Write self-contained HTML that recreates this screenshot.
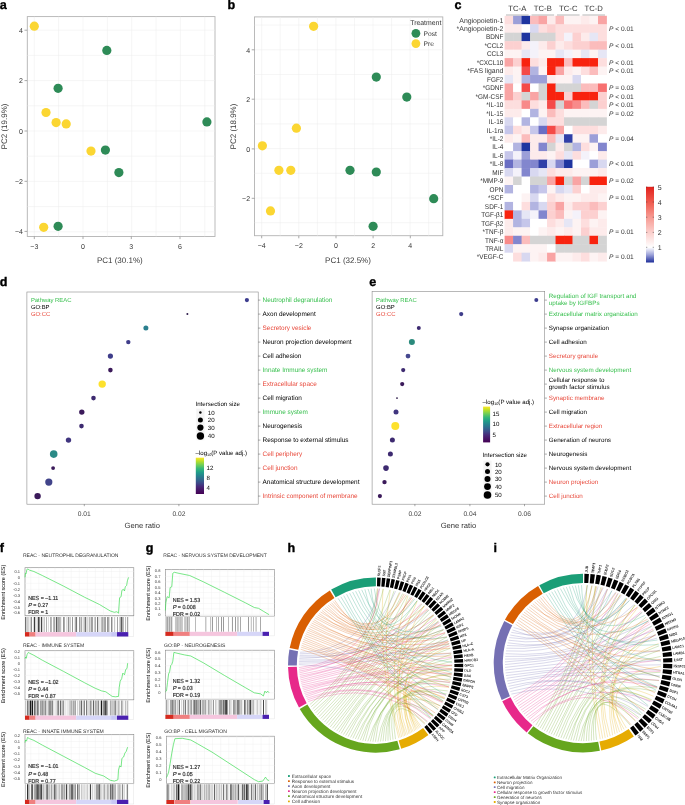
<!DOCTYPE html>
<html lang="en"><head><meta charset="utf-8"><title>Figure</title>
<style>html,body{margin:0;padding:0;background:#fff}body{width:685px;height:805px;overflow:hidden}svg{display:block;font-family:"Liberation Sans", sans-serif;text-rendering:geometricPrecision;will-change:transform}</style></head><body>
<svg width="685" height="805" viewBox="0 0 685 805">
<defs>
<linearGradient id="hmgrad" x1="0" y1="0" x2="0" y2="1"><stop offset="0" stop-color="#e3211c"/><stop offset="0.2" stop-color="#ef5a4e"/><stop offset="0.4" stop-color="#f79a92"/><stop offset="0.6" stop-color="#fbcfcc"/><stop offset="0.8" stop-color="#ffffff"/><stop offset="0.9" stop-color="#9aa0d8"/><stop offset="1" stop-color="#1f2f9a"/></linearGradient>
<linearGradient id="vir" x1="0" y1="0" x2="0" y2="1"><stop offset="0" stop-color="#fde725"/><stop offset="0.1" stop-color="#b5de2b"/><stop offset="0.2" stop-color="#6ece58"/><stop offset="0.3" stop-color="#35b779"/><stop offset="0.4" stop-color="#1f9e89"/><stop offset="0.5" stop-color="#26828e"/><stop offset="0.6" stop-color="#31688e"/><stop offset="0.7" stop-color="#3e4989"/><stop offset="0.8" stop-color="#482878"/><stop offset="0.9" stop-color="#471365"/><stop offset="1" stop-color="#440154"/></linearGradient>
</defs>
<rect width="685" height="805" fill="#fff"/>
<rect x="27.3" y="16.6" width="187.7" height="219.9" fill="#fff" stroke="#b3b3b3" stroke-width="0.9"/>
<path d="M34.3 16.6V236.5M58.6 16.6V236.5M83.0 16.6V236.5M107.4 16.6V236.5M131.7 16.6V236.5M156.1 16.6V236.5M180.4 16.6V236.5M204.8 16.6V236.5M27.3 30.2H215M27.3 55.4H215M27.3 80.6H215M27.3 105.8H215M27.3 131.0H215M27.3 156.2H215M27.3 181.4H215M27.3 206.6H215M27.3 231.8H215" stroke="#ececec" stroke-width="0.5" fill="none"/>
<text x="34.3" y="249.1" font-size="7.0" text-anchor="middle" fill="#333">−3</text>
<text x="83.0" y="249.1" font-size="7.0" text-anchor="middle" fill="#333">0</text>
<text x="131.3" y="249.1" font-size="7.0" text-anchor="middle" fill="#333">3</text>
<text x="180.0" y="249.1" font-size="7.0" text-anchor="middle" fill="#333">6</text>
<text x="22.9" y="33.0" font-size="7.0" text-anchor="end" fill="#333">4</text>
<text x="22.9" y="83.4" font-size="7.0" text-anchor="end" fill="#333">2</text>
<text x="22.9" y="133.8" font-size="7.0" text-anchor="end" fill="#333">0</text>
<text x="22.9" y="184.1" font-size="7.0" text-anchor="end" fill="#333">−2</text>
<text x="22.9" y="234.2" font-size="7.0" text-anchor="end" fill="#333">−4</text>
<path d="M34.3 236.5v2.6M83.0 236.5v2.6M131.3 236.5v2.6M180.0 236.5v2.6M27.3 30.2h-2.8M27.3 80.6h-2.8M27.3 131.0h-2.8M27.3 181.3h-2.8M27.3 231.4h-2.8" stroke="#555" stroke-width="0.5" fill="none"/>
<circle cx="34.3" cy="26.2" r="4.6" fill="#fbd632"/>
<circle cx="46.0" cy="112.5" r="4.6" fill="#fbd632"/>
<circle cx="56.1" cy="122.6" r="4.6" fill="#fbd632"/>
<circle cx="66.2" cy="123.9" r="4.6" fill="#fbd632"/>
<circle cx="91.0" cy="151.1" r="4.6" fill="#fbd632"/>
<circle cx="43.7" cy="227.3" r="4.6" fill="#fbd632"/>
<circle cx="106.8" cy="50.4" r="4.6" fill="#2e8b57"/>
<circle cx="58.1" cy="88.3" r="4.6" fill="#2e8b57"/>
<circle cx="206.9" cy="121.9" r="4.6" fill="#2e8b57"/>
<circle cx="105.4" cy="150.1" r="4.6" fill="#2e8b57"/>
<circle cx="118.9" cy="172.6" r="4.6" fill="#2e8b57"/>
<circle cx="58.1" cy="226.3" r="4.6" fill="#2e8b57"/>
<text x="119.8" y="263.3" font-size="8" text-anchor="middle" fill="#3a3a3a">PC1 (30.1%)</text>
<text x="7.2" y="126.5" font-size="8" text-anchor="middle" fill="#3a3a3a" transform="rotate(-90 7.2 126.5)">PC2 (19.9%)</text>
<rect x="254.5" y="16.9" width="188.3" height="218.8" fill="#fff" stroke="#b3b3b3" stroke-width="0.9"/>
<path d="M261.7 16.9V235.7M280.2 16.9V235.7M298.8 16.9V235.7M317.4 16.9V235.7M335.9 16.9V235.7M354.5 16.9V235.7M373.0 16.9V235.7M391.6 16.9V235.7M410.1 16.9V235.7M428.7 16.9V235.7M254.5 25.1H442.8M254.5 49.8H442.8M254.5 74.5H442.8M254.5 99.2H442.8M254.5 123.9H442.8M254.5 148.6H442.8M254.5 173.3H442.8M254.5 198.0H442.8M254.5 222.7H442.8" stroke="#ececec" stroke-width="0.5" fill="none"/>
<text x="261.7" y="248.3" font-size="7.0" text-anchor="middle" fill="#333">−4</text>
<text x="298.8" y="248.3" font-size="7.0" text-anchor="middle" fill="#333">−2</text>
<text x="336.0" y="248.3" font-size="7.0" text-anchor="middle" fill="#333">0</text>
<text x="373.1" y="248.3" font-size="7.0" text-anchor="middle" fill="#333">2</text>
<text x="410.3" y="248.3" font-size="7.0" text-anchor="middle" fill="#333">4</text>
<text x="250.1" y="52.6" font-size="7.0" text-anchor="end" fill="#333">4</text>
<text x="250.1" y="102.0" font-size="7.0" text-anchor="end" fill="#333">2</text>
<text x="250.1" y="151.7" font-size="7.0" text-anchor="end" fill="#333">0</text>
<text x="250.1" y="201.1" font-size="7.0" text-anchor="end" fill="#333">−2</text>
<path d="M261.7 235.7v2.6M298.8 235.7v2.6M336.0 235.7v2.6M373.1 235.7v2.6M410.3 235.7v2.6M254.5 49.8h-2.8M254.5 99.2h-2.8M254.5 148.9h-2.8M254.5 198.3h-2.8" stroke="#555" stroke-width="0.5" fill="none"/>
<circle cx="313.6" cy="26.3" r="4.6" fill="#fbd632"/>
<circle cx="296.4" cy="128.2" r="4.6" fill="#fbd632"/>
<circle cx="262.4" cy="145.8" r="4.6" fill="#fbd632"/>
<circle cx="278.9" cy="170.3" r="4.6" fill="#fbd632"/>
<circle cx="290.8" cy="170.3" r="4.6" fill="#fbd632"/>
<circle cx="270.5" cy="210.9" r="4.6" fill="#fbd632"/>
<circle cx="376.3" cy="77.1" r="4.6" fill="#2e8b57"/>
<circle cx="406.8" cy="97.1" r="4.6" fill="#2e8b57"/>
<circle cx="350.0" cy="170.3" r="4.6" fill="#2e8b57"/>
<circle cx="376.3" cy="172.0" r="4.6" fill="#2e8b57"/>
<circle cx="433.7" cy="198.7" r="4.6" fill="#2e8b57"/>
<circle cx="373.1" cy="226.3" r="4.6" fill="#2e8b57"/>
<text x="348.0" y="263.3" font-size="8" text-anchor="middle" fill="#3a3a3a">PC1 (32.5%)</text>
<text x="235.8" y="126.5" font-size="8" text-anchor="middle" fill="#3a3a3a" transform="rotate(-90 235.8 126.5)">PC2 (18.9%)</text>
<text x="410.2" y="25.1" font-size="6.9" fill="#333">Treatment</text>
<circle cx="415.9" cy="33.3" r="4.4" fill="#2e8b57"/>
<circle cx="415.9" cy="43.6" r="4.4" fill="#fbd632"/>
<text x="423.6" y="35.8" font-size="6.7" fill="#333">Post</text>
<text x="423.6" y="46.0" font-size="6.7" fill="#333">Pre</text>
<rect x="504.60" y="15.80" width="8.89" height="8.86" fill="#fddede"/>
<rect x="513.09" y="15.80" width="8.89" height="8.86" fill="#9c9fd8"/>
<rect x="521.58" y="15.80" width="8.89" height="8.86" fill="#1f35a0"/>
<rect x="530.07" y="15.80" width="8.89" height="8.86" fill="#fbbcbc"/>
<rect x="538.56" y="15.80" width="8.89" height="8.86" fill="#f9a4a4"/>
<rect x="547.05" y="15.80" width="8.89" height="8.86" fill="#fdebeb"/>
<rect x="555.54" y="15.80" width="8.89" height="8.86" fill="#fbbcbc"/>
<rect x="564.03" y="15.80" width="8.89" height="8.86" fill="#fdf3f3"/>
<rect x="572.52" y="15.80" width="8.89" height="8.86" fill="#fdf3f3"/>
<rect x="581.01" y="15.80" width="8.89" height="8.86" fill="#fdebeb"/>
<rect x="589.50" y="15.80" width="8.89" height="8.86" fill="#fdf3f3"/>
<rect x="597.99" y="15.80" width="8.89" height="8.86" fill="#f9a4a4"/>
<text x="503.4" y="22.5" font-size="6.9" textLength="44.11" lengthAdjust="spacingAndGlyphs" text-anchor="end" fill="#333">Angiopoietin-1</text>
<rect x="504.60" y="24.26" width="8.89" height="8.86" fill="#fdebeb"/>
<rect x="513.09" y="24.26" width="8.89" height="8.86" fill="#fdebeb"/>
<rect x="521.58" y="24.26" width="8.89" height="8.86" fill="#ffffff"/>
<rect x="530.07" y="24.26" width="8.89" height="8.86" fill="#d8d8f0"/>
<rect x="538.56" y="24.26" width="8.89" height="8.86" fill="#fddede"/>
<rect x="547.05" y="24.26" width="8.89" height="8.86" fill="#fcd0d0"/>
<rect x="555.54" y="24.26" width="8.89" height="8.86" fill="#fddede"/>
<rect x="564.03" y="24.26" width="8.89" height="8.86" fill="#fddede"/>
<rect x="572.52" y="24.26" width="8.89" height="8.86" fill="#fddede"/>
<rect x="581.01" y="24.26" width="8.89" height="8.86" fill="#fddede"/>
<rect x="589.50" y="24.26" width="8.89" height="8.86" fill="#fddede"/>
<rect x="597.99" y="24.26" width="8.89" height="8.86" fill="#fddede"/>
<text x="503.4" y="31.0" font-size="6.9" textLength="46.80" lengthAdjust="spacingAndGlyphs" text-anchor="end" fill="#333">*Angiopoietin-2</text>
<text x="609.0" y="31.0" font-size="6.6" fill="#333"><tspan font-style="italic">P</tspan> &lt; 0.01</text>
<rect x="504.60" y="32.72" width="8.89" height="8.86" fill="#d4d4d4"/>
<rect x="513.09" y="32.72" width="8.89" height="8.86" fill="#d4d4d4"/>
<rect x="521.58" y="32.72" width="8.89" height="8.86" fill="#1f35a0"/>
<rect x="530.07" y="32.72" width="8.89" height="8.86" fill="#d4d4d4"/>
<rect x="538.56" y="32.72" width="8.89" height="8.86" fill="#d4d4d4"/>
<rect x="547.05" y="32.72" width="8.89" height="8.86" fill="#d4d4d4"/>
<rect x="555.54" y="32.72" width="8.89" height="8.86" fill="#fddede"/>
<rect x="564.03" y="32.72" width="8.89" height="8.86" fill="#f4f2fa"/>
<rect x="572.52" y="32.72" width="8.89" height="8.86" fill="#fcd0d0"/>
<rect x="581.01" y="32.72" width="8.89" height="8.86" fill="#fdebeb"/>
<rect x="589.50" y="32.72" width="8.89" height="8.86" fill="#e6e6f5"/>
<rect x="597.99" y="32.72" width="8.89" height="8.86" fill="#fddede"/>
<text x="503.4" y="39.4" font-size="6.9" textLength="17.47" lengthAdjust="spacingAndGlyphs" text-anchor="end" fill="#333">BDNF</text>
<rect x="504.60" y="41.18" width="8.89" height="8.86" fill="#fcd0d0"/>
<rect x="513.09" y="41.18" width="8.89" height="8.86" fill="#fcd0d0"/>
<rect x="521.58" y="41.18" width="8.89" height="8.86" fill="#fdebeb"/>
<rect x="530.07" y="41.18" width="8.89" height="8.86" fill="#f4f2fa"/>
<rect x="538.56" y="41.18" width="8.89" height="8.86" fill="#fdebeb"/>
<rect x="547.05" y="41.18" width="8.89" height="8.86" fill="#fcd0d0"/>
<rect x="555.54" y="41.18" width="8.89" height="8.86" fill="#fdebeb"/>
<rect x="564.03" y="41.18" width="8.89" height="8.86" fill="#fddede"/>
<rect x="572.52" y="41.18" width="8.89" height="8.86" fill="#fcd0d0"/>
<rect x="581.01" y="41.18" width="8.89" height="8.86" fill="#fcd0d0"/>
<rect x="589.50" y="41.18" width="8.89" height="8.86" fill="#fbbcbc"/>
<rect x="597.99" y="41.18" width="8.89" height="8.86" fill="#fbbcbc"/>
<text x="503.4" y="47.9" font-size="6.9" textLength="18.90" lengthAdjust="spacingAndGlyphs" text-anchor="end" fill="#333">*CCL2</text>
<text x="609.0" y="47.9" font-size="6.6" fill="#333"><tspan font-style="italic">P</tspan> &lt; 0.01</text>
<rect x="504.60" y="49.64" width="8.89" height="8.86" fill="#fdf3f3"/>
<rect x="513.09" y="49.64" width="8.89" height="8.86" fill="#fdf3f3"/>
<rect x="521.58" y="49.64" width="8.89" height="8.86" fill="#e6e6f5"/>
<rect x="530.07" y="49.64" width="8.89" height="8.86" fill="#f4f2fa"/>
<rect x="538.56" y="49.64" width="8.89" height="8.86" fill="#fdf3f3"/>
<rect x="547.05" y="49.64" width="8.89" height="8.86" fill="#fdf3f3"/>
<rect x="555.54" y="49.64" width="8.89" height="8.86" fill="#e6e6f5"/>
<rect x="564.03" y="49.64" width="8.89" height="8.86" fill="#f4f2fa"/>
<rect x="572.52" y="49.64" width="8.89" height="8.86" fill="#fdf3f3"/>
<rect x="581.01" y="49.64" width="8.89" height="8.86" fill="#e6e6f5"/>
<rect x="589.50" y="49.64" width="8.89" height="8.86" fill="#fdf3f3"/>
<rect x="597.99" y="49.64" width="8.89" height="8.86" fill="#e6e6f5"/>
<text x="503.4" y="56.3" font-size="6.9" textLength="16.41" lengthAdjust="spacingAndGlyphs" text-anchor="end" fill="#333">CCL3</text>
<rect x="504.60" y="58.10" width="8.89" height="8.86" fill="#f9a4a4"/>
<rect x="513.09" y="58.10" width="8.89" height="8.86" fill="#fcd0d0"/>
<rect x="521.58" y="58.10" width="8.89" height="8.86" fill="#f8230f"/>
<rect x="530.07" y="58.10" width="8.89" height="8.86" fill="#fddede"/>
<rect x="538.56" y="58.10" width="8.89" height="8.86" fill="#fdebeb"/>
<rect x="547.05" y="58.10" width="8.89" height="8.86" fill="#f8230f"/>
<rect x="555.54" y="58.10" width="8.89" height="8.86" fill="#f8230f"/>
<rect x="564.03" y="58.10" width="8.89" height="8.86" fill="#fbbcbc"/>
<rect x="572.52" y="58.10" width="8.89" height="8.86" fill="#f8230f"/>
<rect x="581.01" y="58.10" width="8.89" height="8.86" fill="#f8230f"/>
<rect x="589.50" y="58.10" width="8.89" height="8.86" fill="#f8230f"/>
<rect x="597.99" y="58.10" width="8.89" height="8.86" fill="#fddede"/>
<text x="503.4" y="64.8" font-size="6.9" textLength="26.75" lengthAdjust="spacingAndGlyphs" text-anchor="end" fill="#333">*CXCL10</text>
<text x="609.0" y="64.8" font-size="6.6" fill="#333"><tspan font-style="italic">P</tspan> &lt; 0.01</text>
<rect x="504.60" y="66.56" width="8.89" height="8.86" fill="#fdebeb"/>
<rect x="513.09" y="66.56" width="8.89" height="8.86" fill="#fdf3f3"/>
<rect x="521.58" y="66.56" width="8.89" height="8.86" fill="#f44a48"/>
<rect x="530.07" y="66.56" width="8.89" height="8.86" fill="#b2b4e1"/>
<rect x="538.56" y="66.56" width="8.89" height="8.86" fill="#fdf3f3"/>
<rect x="547.05" y="66.56" width="8.89" height="8.86" fill="#f8230f"/>
<rect x="555.54" y="66.56" width="8.89" height="8.86" fill="#f9a4a4"/>
<rect x="564.03" y="66.56" width="8.89" height="8.86" fill="#fdebeb"/>
<rect x="572.52" y="66.56" width="8.89" height="8.86" fill="#fdf3f3"/>
<rect x="581.01" y="66.56" width="8.89" height="8.86" fill="#fddede"/>
<rect x="589.50" y="66.56" width="8.89" height="8.86" fill="#fbbcbc"/>
<rect x="597.99" y="66.56" width="8.89" height="8.86" fill="#fdf3f3"/>
<text x="503.4" y="73.3" font-size="6.9" textLength="36.06" lengthAdjust="spacingAndGlyphs" text-anchor="end" fill="#333">*FAS ligand</text>
<text x="609.0" y="73.3" font-size="6.6" fill="#333"><tspan font-style="italic">P</tspan> &lt; 0.01</text>
<rect x="504.60" y="75.02" width="8.89" height="8.86" fill="#e6e6f5"/>
<rect x="513.09" y="75.02" width="8.89" height="8.86" fill="#fdf3f3"/>
<rect x="521.58" y="75.02" width="8.89" height="8.86" fill="#b2b4e1"/>
<rect x="530.07" y="75.02" width="8.89" height="8.86" fill="#9c9fd8"/>
<rect x="538.56" y="75.02" width="8.89" height="8.86" fill="#9c9fd8"/>
<rect x="547.05" y="75.02" width="8.89" height="8.86" fill="#fdebeb"/>
<rect x="555.54" y="75.02" width="8.89" height="8.86" fill="#fdf3f3"/>
<rect x="564.03" y="75.02" width="8.89" height="8.86" fill="#fdf3f3"/>
<rect x="572.52" y="75.02" width="8.89" height="8.86" fill="#d8d8f0"/>
<rect x="581.01" y="75.02" width="8.89" height="8.86" fill="#ffffff"/>
<rect x="589.50" y="75.02" width="8.89" height="8.86" fill="#ffffff"/>
<rect x="597.99" y="75.02" width="8.89" height="8.86" fill="#ffffff"/>
<text x="503.4" y="81.7" font-size="6.9" textLength="16.40" lengthAdjust="spacingAndGlyphs" text-anchor="end" fill="#333">FGF2</text>
<rect x="504.60" y="83.48" width="8.89" height="8.86" fill="#f9a4a4"/>
<rect x="513.09" y="83.48" width="8.89" height="8.86" fill="#ffffff"/>
<rect x="521.58" y="83.48" width="8.89" height="8.86" fill="#f44a48"/>
<rect x="530.07" y="83.48" width="8.89" height="8.86" fill="#ffffff"/>
<rect x="538.56" y="83.48" width="8.89" height="8.86" fill="#d4d4d4"/>
<rect x="547.05" y="83.48" width="8.89" height="8.86" fill="#f8230f"/>
<rect x="555.54" y="83.48" width="8.89" height="8.86" fill="#d4d4d4"/>
<rect x="564.03" y="83.48" width="8.89" height="8.86" fill="#d4d4d4"/>
<rect x="572.52" y="83.48" width="8.89" height="8.86" fill="#d4d4d4"/>
<rect x="581.01" y="83.48" width="8.89" height="8.86" fill="#fbbcbc"/>
<rect x="589.50" y="83.48" width="8.89" height="8.86" fill="#fbbcbc"/>
<rect x="597.99" y="83.48" width="8.89" height="8.86" fill="#f77070"/>
<text x="503.4" y="90.2" font-size="6.9" textLength="20.68" lengthAdjust="spacingAndGlyphs" text-anchor="end" fill="#333">*GDNF</text>
<text x="609.0" y="90.2" font-size="6.6" fill="#333"><tspan font-style="italic">P</tspan> = 0.03</text>
<rect x="504.60" y="91.94" width="8.89" height="8.86" fill="#f9a4a4"/>
<rect x="513.09" y="91.94" width="8.89" height="8.86" fill="#fcd0d0"/>
<rect x="521.58" y="91.94" width="8.89" height="8.86" fill="#d4d4d4"/>
<rect x="530.07" y="91.94" width="8.89" height="8.86" fill="#f9a4a4"/>
<rect x="538.56" y="91.94" width="8.89" height="8.86" fill="#d4d4d4"/>
<rect x="547.05" y="91.94" width="8.89" height="8.86" fill="#f8230f"/>
<rect x="555.54" y="91.94" width="8.89" height="8.86" fill="#f8230f"/>
<rect x="564.03" y="91.94" width="8.89" height="8.86" fill="#fcd0d0"/>
<rect x="572.52" y="91.94" width="8.89" height="8.86" fill="#f8230f"/>
<rect x="581.01" y="91.94" width="8.89" height="8.86" fill="#f8230f"/>
<rect x="589.50" y="91.94" width="8.89" height="8.86" fill="#f8230f"/>
<rect x="597.99" y="91.94" width="8.89" height="8.86" fill="#fcd0d0"/>
<text x="503.4" y="98.6" font-size="6.9" textLength="27.80" lengthAdjust="spacingAndGlyphs" text-anchor="end" fill="#333">*GM-CSF</text>
<text x="609.0" y="98.6" font-size="6.6" fill="#333"><tspan font-style="italic">P</tspan> &lt; 0.01</text>
<rect x="504.60" y="100.40" width="8.89" height="8.86" fill="#fddede"/>
<rect x="513.09" y="100.40" width="8.89" height="8.86" fill="#fddede"/>
<rect x="521.58" y="100.40" width="8.89" height="8.86" fill="#f88a8a"/>
<rect x="530.07" y="100.40" width="8.89" height="8.86" fill="#fddede"/>
<rect x="538.56" y="100.40" width="8.89" height="8.86" fill="#fdebeb"/>
<rect x="547.05" y="100.40" width="8.89" height="8.86" fill="#f44a48"/>
<rect x="555.54" y="100.40" width="8.89" height="8.86" fill="#d4d4d4"/>
<rect x="564.03" y="100.40" width="8.89" height="8.86" fill="#f77070"/>
<rect x="572.52" y="100.40" width="8.89" height="8.86" fill="#f88a8a"/>
<rect x="581.01" y="100.40" width="8.89" height="8.86" fill="#fbbcbc"/>
<rect x="589.50" y="100.40" width="8.89" height="8.86" fill="#d4d4d4"/>
<rect x="597.99" y="100.40" width="8.89" height="8.86" fill="#fcd0d0"/>
<text x="503.4" y="107.1" font-size="6.9" textLength="17.12" lengthAdjust="spacingAndGlyphs" text-anchor="end" fill="#333">*IL-10</text>
<text x="609.0" y="107.1" font-size="6.6" fill="#333"><tspan font-style="italic">P</tspan> &lt; 0.01</text>
<rect x="504.60" y="108.86" width="8.89" height="8.86" fill="#fdebeb"/>
<rect x="513.09" y="108.86" width="8.89" height="8.86" fill="#fdebeb"/>
<rect x="521.58" y="108.86" width="8.89" height="8.86" fill="#ffffff"/>
<rect x="530.07" y="108.86" width="8.89" height="8.86" fill="#b2b4e1"/>
<rect x="538.56" y="108.86" width="8.89" height="8.86" fill="#fdf3f3"/>
<rect x="547.05" y="108.86" width="8.89" height="8.86" fill="#fbbcbc"/>
<rect x="555.54" y="108.86" width="8.89" height="8.86" fill="#fddede"/>
<rect x="564.03" y="108.86" width="8.89" height="8.86" fill="#fdf3f3"/>
<rect x="572.52" y="108.86" width="8.89" height="8.86" fill="#fdf3f3"/>
<rect x="581.01" y="108.86" width="8.89" height="8.86" fill="#fdf3f3"/>
<rect x="589.50" y="108.86" width="8.89" height="8.86" fill="#fdf3f3"/>
<rect x="597.99" y="108.86" width="8.89" height="8.86" fill="#fdf3f3"/>
<text x="503.4" y="115.6" font-size="6.9" textLength="17.12" lengthAdjust="spacingAndGlyphs" text-anchor="end" fill="#333">*IL-15</text>
<text x="609.0" y="115.6" font-size="6.6" fill="#333"><tspan font-style="italic">P</tspan> = 0.02</text>
<rect x="504.60" y="117.32" width="8.89" height="8.86" fill="#d8d8f0"/>
<rect x="513.09" y="117.32" width="8.89" height="8.86" fill="#ffffff"/>
<rect x="521.58" y="117.32" width="8.89" height="8.86" fill="#b2b4e1"/>
<rect x="530.07" y="117.32" width="8.89" height="8.86" fill="#ffffff"/>
<rect x="538.56" y="117.32" width="8.89" height="8.86" fill="#d8d8f0"/>
<rect x="547.05" y="117.32" width="8.89" height="8.86" fill="#fddede"/>
<rect x="555.54" y="117.32" width="8.89" height="8.86" fill="#fddede"/>
<rect x="564.03" y="117.32" width="8.89" height="8.86" fill="#d4d4d4"/>
<rect x="572.52" y="117.32" width="8.89" height="8.86" fill="#d4d4d4"/>
<rect x="581.01" y="117.32" width="8.89" height="8.86" fill="#d4d4d4"/>
<rect x="589.50" y="117.32" width="8.89" height="8.86" fill="#d4d4d4"/>
<rect x="597.99" y="117.32" width="8.89" height="8.86" fill="#d4d4d4"/>
<text x="503.4" y="124.0" font-size="6.9" textLength="14.62" lengthAdjust="spacingAndGlyphs" text-anchor="end" fill="#333">IL-16</text>
<rect x="504.60" y="125.78" width="8.89" height="8.86" fill="#c6c6ea"/>
<rect x="513.09" y="125.78" width="8.89" height="8.86" fill="#fddede"/>
<rect x="521.58" y="125.78" width="8.89" height="8.86" fill="#fdebeb"/>
<rect x="530.07" y="125.78" width="8.89" height="8.86" fill="#c6c6ea"/>
<rect x="538.56" y="125.78" width="8.89" height="8.86" fill="#6a6ec4"/>
<rect x="547.05" y="125.78" width="8.89" height="8.86" fill="#f44a48"/>
<rect x="555.54" y="125.78" width="8.89" height="8.86" fill="#f9a4a4"/>
<rect x="564.03" y="125.78" width="8.89" height="8.86" fill="#ffffff"/>
<rect x="572.52" y="125.78" width="8.89" height="8.86" fill="#fddede"/>
<rect x="581.01" y="125.78" width="8.89" height="8.86" fill="#fddede"/>
<rect x="589.50" y="125.78" width="8.89" height="8.86" fill="#fddede"/>
<rect x="597.99" y="125.78" width="8.89" height="8.86" fill="#fdebeb"/>
<text x="503.4" y="132.5" font-size="6.9" textLength="16.76" lengthAdjust="spacingAndGlyphs" text-anchor="end" fill="#333">IL-1ra</text>
<rect x="504.60" y="134.24" width="8.89" height="8.86" fill="#fdebeb"/>
<rect x="513.09" y="134.24" width="8.89" height="8.86" fill="#fdf3f3"/>
<rect x="521.58" y="134.24" width="8.89" height="8.86" fill="#fbbcbc"/>
<rect x="530.07" y="134.24" width="8.89" height="8.86" fill="#fdebeb"/>
<rect x="538.56" y="134.24" width="8.89" height="8.86" fill="#fdebeb"/>
<rect x="547.05" y="134.24" width="8.89" height="8.86" fill="#fbbcbc"/>
<rect x="555.54" y="134.24" width="8.89" height="8.86" fill="#e6e6f5"/>
<rect x="564.03" y="134.24" width="8.89" height="8.86" fill="#3040a8"/>
<rect x="572.52" y="134.24" width="8.89" height="8.86" fill="#fdf3f3"/>
<rect x="581.01" y="134.24" width="8.89" height="8.86" fill="#fdf3f3"/>
<rect x="589.50" y="134.24" width="8.89" height="8.86" fill="#9c9fd8"/>
<rect x="597.99" y="134.24" width="8.89" height="8.86" fill="#ffffff"/>
<text x="503.4" y="140.9" font-size="6.9" textLength="13.55" lengthAdjust="spacingAndGlyphs" text-anchor="end" fill="#333">*IL-2</text>
<text x="609.0" y="140.9" font-size="6.6" fill="#333"><tspan font-style="italic">P</tspan> = 0.04</text>
<rect x="504.60" y="142.70" width="8.89" height="8.86" fill="#ffffff"/>
<rect x="513.09" y="142.70" width="8.89" height="8.86" fill="#b2b4e1"/>
<rect x="521.58" y="142.70" width="8.89" height="8.86" fill="#1f35a0"/>
<rect x="530.07" y="142.70" width="8.89" height="8.86" fill="#fdebeb"/>
<rect x="538.56" y="142.70" width="8.89" height="8.86" fill="#8286ce"/>
<rect x="547.05" y="142.70" width="8.89" height="8.86" fill="#d4d4d4"/>
<rect x="555.54" y="142.70" width="8.89" height="8.86" fill="#fdebeb"/>
<rect x="564.03" y="142.70" width="8.89" height="8.86" fill="#d4d4d4"/>
<rect x="572.52" y="142.70" width="8.89" height="8.86" fill="#b2b4e1"/>
<rect x="581.01" y="142.70" width="8.89" height="8.86" fill="#fddede"/>
<rect x="589.50" y="142.70" width="8.89" height="8.86" fill="#fdf3f3"/>
<rect x="597.99" y="142.70" width="8.89" height="8.86" fill="#8286ce"/>
<text x="503.4" y="149.4" font-size="6.9" textLength="11.06" lengthAdjust="spacingAndGlyphs" text-anchor="end" fill="#333">IL-4</text>
<rect x="504.60" y="151.16" width="8.89" height="8.86" fill="#c6c6ea"/>
<rect x="513.09" y="151.16" width="8.89" height="8.86" fill="#f4f2fa"/>
<rect x="521.58" y="151.16" width="8.89" height="8.86" fill="#9c9fd8"/>
<rect x="530.07" y="151.16" width="8.89" height="8.86" fill="#fdebeb"/>
<rect x="538.56" y="151.16" width="8.89" height="8.86" fill="#fdebeb"/>
<rect x="547.05" y="151.16" width="8.89" height="8.86" fill="#fdf3f3"/>
<rect x="555.54" y="151.16" width="8.89" height="8.86" fill="#fddede"/>
<rect x="564.03" y="151.16" width="8.89" height="8.86" fill="#e6e6f5"/>
<rect x="572.52" y="151.16" width="8.89" height="8.86" fill="#fddede"/>
<rect x="581.01" y="151.16" width="8.89" height="8.86" fill="#f4f2fa"/>
<rect x="589.50" y="151.16" width="8.89" height="8.86" fill="#ffffff"/>
<rect x="597.99" y="151.16" width="8.89" height="8.86" fill="#fdebeb"/>
<text x="503.4" y="157.9" font-size="6.9" textLength="11.06" lengthAdjust="spacingAndGlyphs" text-anchor="end" fill="#333">IL-6</text>
<rect x="504.60" y="159.62" width="8.89" height="8.86" fill="#6a6ec4"/>
<rect x="513.09" y="159.62" width="8.89" height="8.86" fill="#b2b4e1"/>
<rect x="521.58" y="159.62" width="8.89" height="8.86" fill="#8286ce"/>
<rect x="530.07" y="159.62" width="8.89" height="8.86" fill="#8286ce"/>
<rect x="538.56" y="159.62" width="8.89" height="8.86" fill="#3040a8"/>
<rect x="547.05" y="159.62" width="8.89" height="8.86" fill="#d8d8f0"/>
<rect x="555.54" y="159.62" width="8.89" height="8.86" fill="#8286ce"/>
<rect x="564.03" y="159.62" width="8.89" height="8.86" fill="#1f35a0"/>
<rect x="572.52" y="159.62" width="8.89" height="8.86" fill="#ffffff"/>
<rect x="581.01" y="159.62" width="8.89" height="8.86" fill="#ffffff"/>
<rect x="589.50" y="159.62" width="8.89" height="8.86" fill="#9c9fd8"/>
<rect x="597.99" y="159.62" width="8.89" height="8.86" fill="#d8d8f0"/>
<text x="503.4" y="166.3" font-size="6.9" textLength="13.55" lengthAdjust="spacingAndGlyphs" text-anchor="end" fill="#333">*IL-8</text>
<text x="609.0" y="166.3" font-size="6.6" fill="#333"><tspan font-style="italic">P</tspan> &lt; 0.01</text>
<rect x="504.60" y="168.08" width="8.89" height="8.86" fill="#d8d8f0"/>
<rect x="513.09" y="168.08" width="8.89" height="8.86" fill="#f4f2fa"/>
<rect x="521.58" y="168.08" width="8.89" height="8.86" fill="#8286ce"/>
<rect x="530.07" y="168.08" width="8.89" height="8.86" fill="#d8d8f0"/>
<rect x="538.56" y="168.08" width="8.89" height="8.86" fill="#e6e6f5"/>
<rect x="547.05" y="168.08" width="8.89" height="8.86" fill="#fddede"/>
<rect x="555.54" y="168.08" width="8.89" height="8.86" fill="#fdebeb"/>
<rect x="564.03" y="168.08" width="8.89" height="8.86" fill="#fdebeb"/>
<rect x="572.52" y="168.08" width="8.89" height="8.86" fill="#fdf3f3"/>
<rect x="581.01" y="168.08" width="8.89" height="8.86" fill="#fdf3f3"/>
<rect x="589.50" y="168.08" width="8.89" height="8.86" fill="#fdf3f3"/>
<rect x="597.99" y="168.08" width="8.89" height="8.86" fill="#fdebeb"/>
<text x="503.4" y="174.8" font-size="6.9" textLength="11.05" lengthAdjust="spacingAndGlyphs" text-anchor="end" fill="#333">MIF</text>
<rect x="504.60" y="176.54" width="8.89" height="8.86" fill="#fdf3f3"/>
<rect x="513.09" y="176.54" width="8.89" height="8.86" fill="#d4d4d4"/>
<rect x="521.58" y="176.54" width="8.89" height="8.86" fill="#ffffff"/>
<rect x="530.07" y="176.54" width="8.89" height="8.86" fill="#d4d4d4"/>
<rect x="538.56" y="176.54" width="8.89" height="8.86" fill="#d4d4d4"/>
<rect x="547.05" y="176.54" width="8.89" height="8.86" fill="#f9a4a4"/>
<rect x="555.54" y="176.54" width="8.89" height="8.86" fill="#f8230f"/>
<rect x="564.03" y="176.54" width="8.89" height="8.86" fill="#d4d4d4"/>
<rect x="572.52" y="176.54" width="8.89" height="8.86" fill="#f9a4a4"/>
<rect x="581.01" y="176.54" width="8.89" height="8.86" fill="#d4d4d4"/>
<rect x="589.50" y="176.54" width="8.89" height="8.86" fill="#f8230f"/>
<rect x="597.99" y="176.54" width="8.89" height="8.86" fill="#f8230f"/>
<text x="503.4" y="183.2" font-size="6.9" textLength="23.17" lengthAdjust="spacingAndGlyphs" text-anchor="end" fill="#333">*MMP-9</text>
<text x="609.0" y="183.2" font-size="6.6" fill="#333"><tspan font-style="italic">P</tspan> = 0.02</text>
<rect x="504.60" y="185.00" width="8.89" height="8.86" fill="#b2b4e1"/>
<rect x="513.09" y="185.00" width="8.89" height="8.86" fill="#ffffff"/>
<rect x="521.58" y="185.00" width="8.89" height="8.86" fill="#ffffff"/>
<rect x="530.07" y="185.00" width="8.89" height="8.86" fill="#b2b4e1"/>
<rect x="538.56" y="185.00" width="8.89" height="8.86" fill="#c6c6ea"/>
<rect x="547.05" y="185.00" width="8.89" height="8.86" fill="#fdf3f3"/>
<rect x="555.54" y="185.00" width="8.89" height="8.86" fill="#d8d8f0"/>
<rect x="564.03" y="185.00" width="8.89" height="8.86" fill="#e6e6f5"/>
<rect x="572.52" y="185.00" width="8.89" height="8.86" fill="#fcd0d0"/>
<rect x="581.01" y="185.00" width="8.89" height="8.86" fill="#ffffff"/>
<rect x="589.50" y="185.00" width="8.89" height="8.86" fill="#fdebeb"/>
<rect x="597.99" y="185.00" width="8.89" height="8.86" fill="#fdebeb"/>
<text x="503.4" y="191.7" font-size="6.9" textLength="13.91" lengthAdjust="spacingAndGlyphs" text-anchor="end" fill="#333">OPN</text>
<rect x="504.60" y="193.46" width="8.89" height="8.86" fill="#ffffff"/>
<rect x="513.09" y="193.46" width="8.89" height="8.86" fill="#ffffff"/>
<rect x="521.58" y="193.46" width="8.89" height="8.86" fill="#fdf3f3"/>
<rect x="530.07" y="193.46" width="8.89" height="8.86" fill="#d8d8f0"/>
<rect x="538.56" y="193.46" width="8.89" height="8.86" fill="#ffffff"/>
<rect x="547.05" y="193.46" width="8.89" height="8.86" fill="#fddede"/>
<rect x="555.54" y="193.46" width="8.89" height="8.86" fill="#fdebeb"/>
<rect x="564.03" y="193.46" width="8.89" height="8.86" fill="#fdf3f3"/>
<rect x="572.52" y="193.46" width="8.89" height="8.86" fill="#fdf3f3"/>
<rect x="581.01" y="193.46" width="8.89" height="8.86" fill="#fdebeb"/>
<rect x="589.50" y="193.46" width="8.89" height="8.86" fill="#fdebeb"/>
<rect x="597.99" y="193.46" width="8.89" height="8.86" fill="#fdf3f3"/>
<text x="503.4" y="200.2" font-size="6.9" textLength="15.33" lengthAdjust="spacingAndGlyphs" text-anchor="end" fill="#333">*SCF</text>
<text x="609.0" y="200.2" font-size="6.6" fill="#333"><tspan font-style="italic">P</tspan> = 0.01</text>
<rect x="504.60" y="201.92" width="8.89" height="8.86" fill="#b2b4e1"/>
<rect x="513.09" y="201.92" width="8.89" height="8.86" fill="#ffffff"/>
<rect x="521.58" y="201.92" width="8.89" height="8.86" fill="#fddede"/>
<rect x="530.07" y="201.92" width="8.89" height="8.86" fill="#b2b4e1"/>
<rect x="538.56" y="201.92" width="8.89" height="8.86" fill="#d8d8f0"/>
<rect x="547.05" y="201.92" width="8.89" height="8.86" fill="#fcd0d0"/>
<rect x="555.54" y="201.92" width="8.89" height="8.86" fill="#f9a4a4"/>
<rect x="564.03" y="201.92" width="8.89" height="8.86" fill="#fdebeb"/>
<rect x="572.52" y="201.92" width="8.89" height="8.86" fill="#fcd0d0"/>
<rect x="581.01" y="201.92" width="8.89" height="8.86" fill="#fcd0d0"/>
<rect x="589.50" y="201.92" width="8.89" height="8.86" fill="#fbbcbc"/>
<rect x="597.99" y="201.92" width="8.89" height="8.86" fill="#fcd0d0"/>
<text x="503.4" y="208.6" font-size="6.9" textLength="18.54" lengthAdjust="spacingAndGlyphs" text-anchor="end" fill="#333">SDF-1</text>
<rect x="504.60" y="210.38" width="8.89" height="8.86" fill="#f8230f"/>
<rect x="513.09" y="210.38" width="8.89" height="8.86" fill="#b2b4e1"/>
<rect x="521.58" y="210.38" width="8.89" height="8.86" fill="#e6e6f5"/>
<rect x="530.07" y="210.38" width="8.89" height="8.86" fill="#f4f2fa"/>
<rect x="538.56" y="210.38" width="8.89" height="8.86" fill="#8286ce"/>
<rect x="547.05" y="210.38" width="8.89" height="8.86" fill="#fcd0d0"/>
<rect x="555.54" y="210.38" width="8.89" height="8.86" fill="#fbbcbc"/>
<rect x="564.03" y="210.38" width="8.89" height="8.86" fill="#fdf3f3"/>
<rect x="572.52" y="210.38" width="8.89" height="8.86" fill="#f4f2fa"/>
<rect x="581.01" y="210.38" width="8.89" height="8.86" fill="#fcd0d0"/>
<rect x="589.50" y="210.38" width="8.89" height="8.86" fill="#fcd0d0"/>
<rect x="597.99" y="210.38" width="8.89" height="8.86" fill="#fdf3f3"/>
<text x="503.4" y="217.1" font-size="6.9" textLength="22.23" lengthAdjust="spacingAndGlyphs" text-anchor="end" fill="#333">TGF-β1</text>
<rect x="504.60" y="218.84" width="8.89" height="8.86" fill="#fdebeb"/>
<rect x="513.09" y="218.84" width="8.89" height="8.86" fill="#b2b4e1"/>
<rect x="521.58" y="218.84" width="8.89" height="8.86" fill="#c6c6ea"/>
<rect x="530.07" y="218.84" width="8.89" height="8.86" fill="#ffffff"/>
<rect x="538.56" y="218.84" width="8.89" height="8.86" fill="#ffffff"/>
<rect x="547.05" y="218.84" width="8.89" height="8.86" fill="#fddede"/>
<rect x="555.54" y="218.84" width="8.89" height="8.86" fill="#fdebeb"/>
<rect x="564.03" y="218.84" width="8.89" height="8.86" fill="#e6e6f5"/>
<rect x="572.52" y="218.84" width="8.89" height="8.86" fill="#fdf3f3"/>
<rect x="581.01" y="218.84" width="8.89" height="8.86" fill="#fddede"/>
<rect x="589.50" y="218.84" width="8.89" height="8.86" fill="#fdf3f3"/>
<rect x="597.99" y="218.84" width="8.89" height="8.86" fill="#fdebeb"/>
<text x="503.4" y="225.5" font-size="6.9" textLength="22.23" lengthAdjust="spacingAndGlyphs" text-anchor="end" fill="#333">TGF-β2</text>
<rect x="504.60" y="227.30" width="8.89" height="8.86" fill="#fdebeb"/>
<rect x="513.09" y="227.30" width="8.89" height="8.86" fill="#fdf3f3"/>
<rect x="521.58" y="227.30" width="8.89" height="8.86" fill="#fdf3f3"/>
<rect x="530.07" y="227.30" width="8.89" height="8.86" fill="#ffffff"/>
<rect x="538.56" y="227.30" width="8.89" height="8.86" fill="#fdf3f3"/>
<rect x="547.05" y="227.30" width="8.89" height="8.86" fill="#fdebeb"/>
<rect x="555.54" y="227.30" width="8.89" height="8.86" fill="#fdf3f3"/>
<rect x="564.03" y="227.30" width="8.89" height="8.86" fill="#fdebeb"/>
<rect x="572.52" y="227.30" width="8.89" height="8.86" fill="#fdf3f3"/>
<rect x="581.01" y="227.30" width="8.89" height="8.86" fill="#fcd0d0"/>
<rect x="589.50" y="227.30" width="8.89" height="8.86" fill="#fdebeb"/>
<rect x="597.99" y="227.30" width="8.89" height="8.86" fill="#fdebeb"/>
<text x="503.4" y="234.0" font-size="6.9" textLength="20.80" lengthAdjust="spacingAndGlyphs" text-anchor="end" fill="#333">*TNF-β</text>
<text x="609.0" y="234.0" font-size="6.6" fill="#333"><tspan font-style="italic">P</tspan> = 0.01</text>
<rect x="504.60" y="235.76" width="8.89" height="8.86" fill="#f88a8a"/>
<rect x="513.09" y="235.76" width="8.89" height="8.86" fill="#8286ce"/>
<rect x="521.58" y="235.76" width="8.89" height="8.86" fill="#fbbcbc"/>
<rect x="530.07" y="235.76" width="8.89" height="8.86" fill="#d4d4d4"/>
<rect x="538.56" y="235.76" width="8.89" height="8.86" fill="#d4d4d4"/>
<rect x="547.05" y="235.76" width="8.89" height="8.86" fill="#d4d4d4"/>
<rect x="555.54" y="235.76" width="8.89" height="8.86" fill="#f8230f"/>
<rect x="564.03" y="235.76" width="8.89" height="8.86" fill="#f8230f"/>
<rect x="572.52" y="235.76" width="8.89" height="8.86" fill="#d4d4d4"/>
<rect x="581.01" y="235.76" width="8.89" height="8.86" fill="#d4d4d4"/>
<rect x="589.50" y="235.76" width="8.89" height="8.86" fill="#f8230f"/>
<rect x="597.99" y="235.76" width="8.89" height="8.86" fill="#d4d4d4"/>
<text x="503.4" y="242.5" font-size="6.9" textLength="18.32" lengthAdjust="spacingAndGlyphs" text-anchor="end" fill="#333">TNF-α</text>
<rect x="504.60" y="244.22" width="8.89" height="8.86" fill="#d8d8f0"/>
<rect x="513.09" y="244.22" width="8.89" height="8.86" fill="#fdf3f3"/>
<rect x="521.58" y="244.22" width="8.89" height="8.86" fill="#fdf3f3"/>
<rect x="530.07" y="244.22" width="8.89" height="8.86" fill="#fdf3f3"/>
<rect x="538.56" y="244.22" width="8.89" height="8.86" fill="#fdf3f3"/>
<rect x="547.05" y="244.22" width="8.89" height="8.86" fill="#ffffff"/>
<rect x="555.54" y="244.22" width="8.89" height="8.86" fill="#d4d4d4"/>
<rect x="564.03" y="244.22" width="8.89" height="8.86" fill="#d4d4d4"/>
<rect x="572.52" y="244.22" width="8.89" height="8.86" fill="#d4d4d4"/>
<rect x="581.01" y="244.22" width="8.89" height="8.86" fill="#d4d4d4"/>
<rect x="589.50" y="244.22" width="8.89" height="8.86" fill="#d4d4d4"/>
<rect x="597.99" y="244.22" width="8.89" height="8.86" fill="#d4d4d4"/>
<text x="503.4" y="250.9" font-size="6.9" textLength="18.19" lengthAdjust="spacingAndGlyphs" text-anchor="end" fill="#333">TRAIL</text>
<rect x="504.60" y="252.68" width="8.89" height="8.86" fill="#ffffff"/>
<rect x="513.09" y="252.68" width="8.89" height="8.86" fill="#fddede"/>
<rect x="521.58" y="252.68" width="8.89" height="8.86" fill="#d8d8f0"/>
<rect x="530.07" y="252.68" width="8.89" height="8.86" fill="#fdf3f3"/>
<rect x="538.56" y="252.68" width="8.89" height="8.86" fill="#fdebeb"/>
<rect x="547.05" y="252.68" width="8.89" height="8.86" fill="#f9a4a4"/>
<rect x="555.54" y="252.68" width="8.89" height="8.86" fill="#fdf3f3"/>
<rect x="564.03" y="252.68" width="8.89" height="8.86" fill="#fdf3f3"/>
<rect x="572.52" y="252.68" width="8.89" height="8.86" fill="#fdebeb"/>
<rect x="581.01" y="252.68" width="8.89" height="8.86" fill="#fddede"/>
<rect x="589.50" y="252.68" width="8.89" height="8.86" fill="#fdf3f3"/>
<rect x="597.99" y="252.68" width="8.89" height="8.86" fill="#fdebeb"/>
<text x="503.4" y="259.4" font-size="6.9" textLength="26.74" lengthAdjust="spacingAndGlyphs" text-anchor="end" fill="#333">*VEGF-C</text>
<text x="609.0" y="259.4" font-size="6.6" fill="#333"><tspan font-style="italic">P</tspan> = 0.01</text>
<text x="517.3" y="11.0" font-size="7.7" text-anchor="middle" fill="#333">TC-A</text>
<path d="M506.0 15.0H528.6" stroke="#888" stroke-width="0.6"/>
<text x="542.8" y="11.0" font-size="7.7" text-anchor="middle" fill="#333">TC-B</text>
<path d="M531.5 15.0H554.1" stroke="#888" stroke-width="0.6"/>
<text x="568.3" y="11.0" font-size="7.7" text-anchor="middle" fill="#333">TC-C</text>
<path d="M557.0 15.0H579.6" stroke="#888" stroke-width="0.6"/>
<text x="593.7" y="11.0" font-size="7.7" text-anchor="middle" fill="#333">TC-D</text>
<path d="M582.4 15.0H605.0" stroke="#888" stroke-width="0.6"/>
<rect x="646.0" y="186.8" width="8.0" height="75.7" fill="url(#hmgrad)"/>
<path d="M646 187.0h1.3M654 187.0h-1.3" stroke="#333" stroke-width="0.45"/>
<text x="657.8" y="189.5" font-size="7" fill="#333">5</text>
<path d="M646 202.0h1.3M654 202.0h-1.3" stroke="#333" stroke-width="0.45"/>
<text x="657.8" y="204.5" font-size="7" fill="#333">4</text>
<path d="M646 217.2h1.3M654 217.2h-1.3" stroke="#333" stroke-width="0.45"/>
<text x="657.8" y="219.7" font-size="7" fill="#333">3</text>
<path d="M646 232.4h1.3M654 232.4h-1.3" stroke="#333" stroke-width="0.45"/>
<text x="657.8" y="234.9" font-size="7" fill="#333">2</text>
<path d="M646 247.3h1.3M654 247.3h-1.3" stroke="#333" stroke-width="0.45"/>
<text x="657.8" y="249.8" font-size="7" fill="#333">1</text>
<rect x="26.9" y="292.0" width="231.3" height="212.2" fill="#fff" stroke="#8a8a8a" stroke-width="0.6"/>
<text x="84.3" y="515.8" font-size="6.7" text-anchor="middle" fill="#444">0.01</text>
<text x="178.9" y="515.8" font-size="6.7" text-anchor="middle" fill="#444">0.02</text>
<path d="M84.3 504.2v2M178.9 504.2v2M258.2 300.1h2.2M258.2 314.1h2.2M258.2 328.1h2.2M258.2 342.1h2.2M258.2 356.1h2.2M258.2 370.1h2.2M258.2 384.1h2.2M258.2 398.1h2.2M258.2 412.1h2.2M258.2 426.1h2.2M258.2 440.1h2.2M258.2 454.1h2.2M258.2 468.1h2.2M258.2 482.1h2.2M258.2 496.1h2.2" stroke="#555" stroke-width="0.5" fill="none"/>
<circle cx="246.9" cy="300.1" r="2.1" fill="#3c3c8e"/>
<text x="262.6" y="302.0" font-size="6.42" fill="#35bf4c">Neutrophil degranulation</text>
<circle cx="187.4" cy="314.1" r="1.0" fill="#2c1a48"/>
<text x="262.6" y="316.0" font-size="6.42">Axon development</text>
<circle cx="145.9" cy="328.1" r="2.5" fill="#2a7f8e"/>
<text x="262.6" y="330.0" font-size="6.42" fill="#e8483a">Secretory vesicle</text>
<circle cx="128.3" cy="342.1" r="2.2" fill="#3f3d8a"/>
<text x="262.6" y="344.0" font-size="6.42">Neuron projection development</text>
<circle cx="110.4" cy="356.1" r="2.6" fill="#3f3d8a"/>
<text x="262.6" y="358.0" font-size="6.42">Cell adhesion</text>
<circle cx="110.4" cy="370.1" r="2.3" fill="#3b1a5a"/>
<text x="262.6" y="372.0" font-size="6.42" fill="#35bf4c">Innate Immune system</text>
<circle cx="102.2" cy="384.1" r="3.7" fill="#fde12d"/>
<text x="262.6" y="386.0" font-size="6.42" fill="#e8483a">Extracellular space</text>
<circle cx="93.5" cy="398.1" r="2.3" fill="#3d2a70"/>
<text x="262.6" y="400.0" font-size="6.42">Cell migration</text>
<circle cx="81.8" cy="412.1" r="2.7" fill="#3b1a5a"/>
<text x="262.6" y="414.0" font-size="6.42" fill="#35bf4c">Immune system</text>
<circle cx="81.5" cy="426.1" r="2.3" fill="#3d2a70"/>
<text x="262.6" y="428.0" font-size="6.42">Neurogenesis</text>
<circle cx="68.5" cy="440.1" r="2.7" fill="#40357f"/>
<text x="262.6" y="442.0" font-size="6.42">Response to external stimulus</text>
<circle cx="53.7" cy="454.1" r="3.8" fill="#2a8a86"/>
<text x="262.6" y="456.0" font-size="6.42" fill="#e8483a">Cell periphery</text>
<circle cx="53.1" cy="468.1" r="1.9" fill="#3b1a5a"/>
<text x="262.6" y="470.0" font-size="6.42" fill="#e8483a">Cell junction</text>
<circle cx="48.8" cy="482.1" r="3.6" fill="#41448a"/>
<text x="262.6" y="484.0" font-size="6.42">Anatomical structure development</text>
<circle cx="37.6" cy="496.1" r="3.2" fill="#3b1a5a"/>
<text x="262.6" y="498.0" font-size="6.42" fill="#e8483a">Intrinsic component of membrane</text>
<text x="30.9" y="302.0" font-size="5.9" fill="#35bf4c">Pathway REAC</text>
<text x="30.9" y="309.0" font-size="5.9">GO:BP</text>
<text x="30.9" y="316.1" font-size="5.9" fill="#e8483a">GO:CC</text>
<text x="142.3" y="528.0" font-size="7.6" text-anchor="middle" fill="#333">Gene ratio</text>
<rect x="196.3" y="408.6" width="8.2" height="31.6" fill="#f4f4f4"/>
<text x="195.5" y="405.6" font-size="6.15">Intersection size</text>
<circle cx="200.4" cy="412.5" r="1.2" fill="#000"/>
<text x="207.8" y="414.7" font-size="6.15">10</text>
<circle cx="200.4" cy="419.9" r="2.5" fill="#000"/>
<text x="207.8" y="422.1" font-size="6.15">20</text>
<circle cx="200.4" cy="427.6" r="3.1" fill="#000"/>
<text x="207.8" y="429.8" font-size="6.15">30</text>
<circle cx="200.4" cy="436" r="3.7" fill="#000"/>
<text x="207.8" y="438.2" font-size="6.15">40</text>
<text x="195.5" y="454.8" font-size="6.1">–log<tspan font-size="3.8" dy="1.3">10</tspan><tspan dy="-1.3">(P value adj.)</tspan></text>
<rect x="195.8" y="457.7" width="8.2" height="36.3" fill="url(#vir)"/>
<text x="206.5" y="469.9" font-size="6.15">12</text>
<text x="206.5" y="479.8" font-size="6.15">8</text>
<text x="206.5" y="489.8" font-size="6.15">4</text>
<rect x="372.1" y="291.6" width="172.6" height="212.6" fill="#fff" stroke="#8a8a8a" stroke-width="0.6"/>
<text x="414.9" y="515.8" font-size="6.7" text-anchor="middle" fill="#444">0.02</text>
<text x="469.9" y="515.8" font-size="6.7" text-anchor="middle" fill="#444">0.04</text>
<text x="524.5" y="515.8" font-size="6.7" text-anchor="middle" fill="#444">0.06</text>
<path d="M414.9 504.2v2M469.9 504.2v2M524.5 504.2v2M544.7 300.1h2.2M544.7 314.1h2.2M544.7 328.1h2.2M544.7 342.1h2.2M544.7 356.1h2.2M544.7 370.1h2.2M544.7 384.1h2.2M544.7 398.1h2.2M544.7 412.1h2.2M544.7 426.1h2.2M544.7 440.1h2.2M544.7 454.1h2.2M544.7 468.1h2.2M544.7 482.1h2.2M544.7 496.1h2.2" stroke="#555" stroke-width="0.5" fill="none"/>
<circle cx="536.3" cy="300.1" r="2.0" fill="#3c3c8e"/>
<text x="548.8" y="298.0" font-size="6.25" fill="#35bf4c">Regulation of IGF transport and</text>
<text x="548.8" y="305.1" font-size="6.25" fill="#35bf4c">uptake by IGFBPs</text>
<circle cx="461.2" cy="314.1" r="2.1" fill="#3f3d8a"/>
<text x="548.8" y="315.9" font-size="6.25" fill="#35bf4c">Extracellular matrix organization</text>
<circle cx="418.8" cy="328.1" r="2.0" fill="#3d2a70"/>
<text x="548.8" y="329.9" font-size="6.25">Synapse organization</text>
<circle cx="411.9" cy="342.1" r="3.0" fill="#2a8a7c"/>
<text x="548.8" y="343.9" font-size="6.25">Cell adhesion</text>
<circle cx="408.0" cy="356.1" r="2.4" fill="#46488f"/>
<text x="548.8" y="357.9" font-size="6.25" fill="#e8483a">Secretory granule</text>
<circle cx="403.2" cy="370.1" r="2.1" fill="#3d2a70"/>
<text x="548.8" y="371.9" font-size="6.25" fill="#35bf4c">Nervous system development</text>
<circle cx="402.2" cy="384.1" r="2.1" fill="#3b1a5a"/>
<text x="548.8" y="382.0" font-size="6.25">Cellular response to</text>
<text x="548.8" y="389.1" font-size="6.25">growth factor stimulus</text>
<circle cx="397.0" cy="398.1" r="0.9" fill="#2c1a48"/>
<text x="548.8" y="399.9" font-size="6.25" fill="#e8483a">Synaptic membrane</text>
<circle cx="396.0" cy="412.1" r="2.5" fill="#40357f"/>
<text x="548.8" y="413.9" font-size="6.25">Cell migration</text>
<circle cx="395.3" cy="426.1" r="4.0" fill="#fde12d"/>
<text x="548.8" y="427.9" font-size="6.25" fill="#e8483a">Extracellular region</text>
<circle cx="392.4" cy="440.1" r="2.5" fill="#3d2a70"/>
<text x="548.8" y="441.9" font-size="6.25">Generation of neurons</text>
<circle cx="390.4" cy="454.1" r="2.5" fill="#3d2a70"/>
<text x="548.8" y="455.9" font-size="6.25">Neurogenesis</text>
<circle cx="386.0" cy="468.1" r="2.8" fill="#3d2a70"/>
<text x="548.8" y="469.9" font-size="6.25">Nervous system development</text>
<circle cx="384.5" cy="482.1" r="2.2" fill="#3b1a5a"/>
<text x="548.8" y="483.9" font-size="6.25" fill="#e8483a">Neuron projection</text>
<circle cx="379.9" cy="496.1" r="2.1" fill="#3b1a5a"/>
<text x="548.8" y="497.9" font-size="6.25" fill="#e8483a">Cell junction</text>
<text x="376.1" y="302.0" font-size="5.9" fill="#35bf4c">Pathway REAC</text>
<text x="376.1" y="309.0" font-size="5.9">GO:BP</text>
<text x="376.1" y="316.1" font-size="5.9" fill="#e8483a">GO:CC</text>
<text x="458.4" y="528.0" font-size="7.6" text-anchor="middle" fill="#333">Gene ratio</text>
<text x="482.6" y="403.7" font-size="6.1">–log<tspan font-size="3.8" dy="1.3">10</tspan><tspan dy="-1.3">(P value adj.)</tspan></text>
<rect x="483.1" y="406.6" width="7" height="35.8" fill="url(#vir)"/>
<text x="492.6" y="416.2" font-size="6.15">15</text>
<text x="492.6" y="426.4" font-size="6.15">10</text>
<text x="492.6" y="436.7" font-size="6.15">5</text>
<rect x="483.4" y="460.6" width="8.2" height="38.4" fill="#f4f4f4"/>
<text x="482.6" y="457.4" font-size="6.15">Intersection size</text>
<circle cx="487.5" cy="464.3" r="2.1" fill="#000"/>
<text x="494.9" y="466.5" font-size="6.15">10</text>
<circle cx="487.5" cy="471.5" r="2.5" fill="#000"/>
<text x="494.9" y="473.7" font-size="6.15">20</text>
<circle cx="487.5" cy="478.9" r="3.0" fill="#000"/>
<text x="494.9" y="481.1" font-size="6.15">30</text>
<circle cx="487.5" cy="486.6" r="3.4" fill="#000"/>
<text x="494.9" y="488.8" font-size="6.15">40</text>
<circle cx="487.5" cy="495" r="3.8" fill="#000"/>
<text x="494.9" y="497.2" font-size="6.15">50</text>
<text x="22.9" y="557.3" font-size="5.07" fill="#333">REAC - NEUTROPHIL DEGRANULATION</text>
<rect x="25" y="567.7" width="108.8" height="48.0" fill="#fff" stroke="#8c8c8c" stroke-width="0.65"/>
<text x="20.0" y="572.9" font-size="4.0" text-anchor="end" fill="#333">0.1</text>
<text x="20.0" y="578.8" font-size="4.0" text-anchor="end" fill="#333">0</text>
<text x="20.0" y="584.7" font-size="4.0" text-anchor="end" fill="#333">-0.1</text>
<text x="20.0" y="590.7" font-size="4.0" text-anchor="end" fill="#333">-0.2</text>
<text x="20.0" y="596.6" font-size="4.0" text-anchor="end" fill="#333">-0.3</text>
<text x="20.0" y="602.5" font-size="4.0" text-anchor="end" fill="#333">-0.4</text>
<text x="20.0" y="608.5" font-size="4.0" text-anchor="end" fill="#333">-0.5</text>
<text x="20.0" y="614.4" font-size="4.0" text-anchor="end" fill="#333">-0.6</text>
<path d="M30.8 567.7V615.7M38.9 567.7V615.7M47.0 567.7V615.7M55.0 567.7V615.7M63.1 567.7V615.7M71.2 567.7V615.7M79.3 567.7V615.7M87.4 567.7V615.7M95.4 567.7V615.7M103.5 567.7V615.7M111.6 567.7V615.7M119.7 567.7V615.7M127.8 567.7V615.7M25 571.5H133.8M25 577.4H133.8M25 583.3H133.8M25 589.3H133.8M25 595.2H133.8M25 601.1H133.8M25 607.1H133.8M25 613.0H133.8" stroke="#eeeeee" stroke-width="0.4" fill="none"/>
<text x="4.9" y="592.2" font-size="5.47" text-anchor="middle" transform="rotate(-90 4.9 592.2)">Enrichment score (ES)</text>
<path d="M25.0 577.4L25.4 573.4L26.0 574.0L26.9 569.4L27.9 569.0L29.6 570.2L33.9 571.5L42.3 575.5L63.5 586.1L84.7 597.3L99.5 604.5L110.1 610.9L114.3 612.3L116.9 611.7L118.5 613.2L119.0 606.2L119.6 597.7L121.1 596.7L121.9 590.3L123.4 589.3L124.5 591.0L125.3 586.7L126.6 585.5L127.4 580.8L128.5 577.4" stroke="#3fdc55" stroke-width="0.7" fill="none" stroke-linejoin="round"/>
<text x="28.2" y="600.3" font-size="5.8" textLength="30.01" lengthAdjust="spacingAndGlyphs" fill="#2a2a2a" stroke="#2a2a2a" stroke-width="0.16">NES = –1.11</text>
<text x="28.2" y="607.2" font-size="5.8" fill="#2a2a2a" font-style="italic" stroke="#2a2a2a" stroke-width="0.16">P</text>
<text x="33.2" y="607.2" font-size="5.8" textLength="14.98" lengthAdjust="spacingAndGlyphs" fill="#2a2a2a" stroke="#2a2a2a" stroke-width="0.16">= 0.27</text>
<text x="28.2" y="614.2" font-size="5.8" textLength="20.02" lengthAdjust="spacingAndGlyphs" fill="#2a2a2a" stroke="#2a2a2a" stroke-width="0.16">FDR = 1</text>
<rect x="25" y="616.8" width="108.8" height="19.7" fill="#fff" stroke="#dcdcdc" stroke-width="0.4"/>
<path d="M25.40 617.1h0.80V632.1h-0.80zM33.84 617.1h1.00V632.1h-1.00zM46.24 617.1h0.35V632.1h-0.35zM50.11 617.1h0.35V632.1h-0.35zM64.02 617.1h0.35V632.1h-0.35zM72.41 617.1h0.45V632.1h-0.45zM75.93 617.1h0.80V632.1h-0.80zM79.40 617.1h0.80V632.1h-0.80zM95.41 617.1h0.35V632.1h-0.35zM97.12 617.1h0.60V632.1h-0.60zM107.16 617.1h0.45V632.1h-0.45z" fill="#1a1a1a"/>
<path d="M27.56 617.1h0.80V632.1h-0.80zM30.97 617.1h1.00V632.1h-1.00zM35.10 617.1h0.35V632.1h-0.35zM39.07 617.1h1.00V632.1h-1.00zM51.31 617.1h0.60V632.1h-0.60zM63.07 617.1h0.35V632.1h-0.35zM63.42 617.1h0.60V632.1h-0.60zM66.84 617.1h0.35V632.1h-0.35zM68.04 617.1h1.30V632.1h-1.30zM82.86 617.1h0.45V632.1h-0.45zM87.03 617.1h0.35V632.1h-0.35zM94.45 617.1h0.45V632.1h-0.45zM103.55 617.1h1.00V632.1h-1.00zM104.80 617.1h1.00V632.1h-1.00zM117.02 617.1h0.80V632.1h-0.80zM119.18 617.1h0.35V632.1h-0.35zM123.29 617.1h0.60V632.1h-0.60z" fill="#8c8c8c"/>
<path d="M29.72 617.1h1.00V632.1h-1.00zM43.58 617.1h1.30V632.1h-1.30zM48.30 617.1h0.45V632.1h-0.45zM66.23 617.1h0.35V632.1h-0.35zM76.73 617.1h0.45V632.1h-0.45zM90.19 617.1h0.45V632.1h-0.45zM99.03 617.1h0.35V632.1h-0.35zM100.74 617.1h1.30V632.1h-1.30zM109.17 617.1h0.60V632.1h-0.60zM114.15 617.1h1.00V632.1h-1.00zM127.86 617.1h0.45V632.1h-0.45z" fill="#c0c0c0"/>
<path d="M35.96 617.1h0.45V632.1h-0.45zM47.95 617.1h0.35V632.1h-0.35zM61.36 617.1h0.35V632.1h-0.35zM79.05 617.1h0.35V632.1h-0.35zM88.23 617.1h0.45V632.1h-0.45zM93.85 617.1h0.35V632.1h-0.35zM98.23 617.1h0.80V632.1h-0.80zM119.53 617.1h0.35V632.1h-0.35z" fill="#d4d4d4"/>
<path d="M37.77 617.1h1.30V632.1h-1.30zM40.92 617.1h1.30V632.1h-1.30zM56.12 617.1h0.35V632.1h-0.35zM56.48 617.1h0.80V632.1h-0.80zM81.05 617.1h0.45V632.1h-0.45zM84.67 617.1h0.45V632.1h-0.45zM85.38 617.1h0.80V632.1h-0.80zM91.49 617.1h1.00V632.1h-1.00zM108.46 617.1h0.45V632.1h-0.45zM111.13 617.1h0.45V632.1h-0.45zM111.83 617.1h0.45V632.1h-0.45zM121.14 617.1h1.30V632.1h-1.30zM127.41 617.1h0.45V632.1h-0.45z" fill="#444"/>
<path d="M53.27 617.1h0.45V632.1h-0.45zM57.79 617.1h0.80V632.1h-0.80zM60.40 617.1h0.45V632.1h-0.45zM70.19 617.1h0.35V632.1h-0.35z" fill="#6a6a6a"/>
<path d="M53.98 617.1h1.30V632.1h-1.30zM58.59 617.1h1.30V632.1h-1.30zM74.73 617.1h0.60V632.1h-0.60zM75.33 617.1h0.60V632.1h-0.60zM89.19 617.1h1.00V632.1h-1.00zM102.04 617.1h1.00V632.1h-1.00zM119.88 617.1h1.00V632.1h-1.00zM125.25 617.1h0.80V632.1h-0.80z" fill="#a8a8a8"/>
<rect x="25.0" y="632.1" width="4.6" height="4.4" fill="#d62a1e"/>
<rect x="29.6" y="632.1" width="6.0" height="4.4" fill="#f08080"/>
<rect x="35.6" y="632.1" width="40.6" height="4.4" fill="#f5c6de"/>
<rect x="76.2" y="632.1" width="34.9" height="4.4" fill="#d6d6f8"/>
<rect x="111.1" y="632.1" width="5.9" height="4.4" fill="#c8c8f5"/>
<rect x="117.0" y="632.1" width="11.3" height="4.4" fill="#4a20b0"/>
<text x="22.9" y="647.2" font-size="5.07" fill="#333">REAC - IMMUNE SYSTEM</text>
<rect x="25" y="650.7" width="108.8" height="49.1" fill="#fff" stroke="#8c8c8c" stroke-width="0.65"/>
<text x="20.0" y="652.7" font-size="4.0" text-anchor="end" fill="#333">0.2</text>
<text x="20.0" y="658.6" font-size="4.0" text-anchor="end" fill="#333">0.1</text>
<text x="20.0" y="664.6" font-size="4.0" text-anchor="end" fill="#333">0</text>
<text x="20.0" y="670.7" font-size="4.0" text-anchor="end" fill="#333">-0.1</text>
<text x="20.0" y="676.8" font-size="4.0" text-anchor="end" fill="#333">-0.2</text>
<text x="20.0" y="683.0" font-size="4.0" text-anchor="end" fill="#333">-0.3</text>
<text x="20.0" y="689.2" font-size="4.0" text-anchor="end" fill="#333">-0.4</text>
<text x="20.0" y="695.4" font-size="4.0" text-anchor="end" fill="#333">-0.5</text>
<path d="M30.8 650.7V699.8M38.9 650.7V699.8M47.0 650.7V699.8M55.0 650.7V699.8M63.1 650.7V699.8M71.2 650.7V699.8M79.3 650.7V699.8M87.4 650.7V699.8M95.4 650.7V699.8M103.5 650.7V699.8M111.6 650.7V699.8M119.7 650.7V699.8M127.8 650.7V699.8M25 651.3H133.8M25 657.2H133.8M25 663.2H133.8M25 669.3H133.8M25 675.4H133.8M25 681.6H133.8M25 687.8H133.8M25 694.0H133.8" stroke="#eeeeee" stroke-width="0.4" fill="none"/>
<text x="4.9" y="675.8" font-size="5.47" text-anchor="middle" transform="rotate(-90 4.9 675.8)">Enrichment score (ES)</text>
<path d="M25.0 658.5L25.6 657.0L26.2 658.3L27.1 654.5L28.4 652.4L29.6 653.2L33.9 655.3L42.3 660.2L63.5 671.4L84.7 682.8L95.3 688.3L101.6 690.9L105.8 691.8L112.2 696.4L115.4 696.8L118.5 696.4L119.2 687.5L120.2 681.2L121.7 678.6L122.8 673.1L124.5 674.8L125.7 669.5L127.0 668.5L127.6 663.2" stroke="#3fdc55" stroke-width="0.7" fill="none" stroke-linejoin="round"/>
<text x="28.2" y="684.1" font-size="5.8" textLength="30.41" lengthAdjust="spacingAndGlyphs" fill="#2a2a2a" stroke="#2a2a2a" stroke-width="0.16">NES = –1.02</text>
<text x="28.2" y="691.2" font-size="5.8" fill="#2a2a2a" font-style="italic" stroke="#2a2a2a" stroke-width="0.16">P</text>
<text x="33.2" y="691.2" font-size="5.8" textLength="14.98" lengthAdjust="spacingAndGlyphs" fill="#2a2a2a" stroke="#2a2a2a" stroke-width="0.16">= 0.44</text>
<text x="28.2" y="698.0" font-size="5.8" textLength="27.43" lengthAdjust="spacingAndGlyphs" fill="#2a2a2a" stroke="#2a2a2a" stroke-width="0.16">FDR = 0.87</text>
<rect x="25" y="700.3" width="108.8" height="19.5" fill="#fff" stroke="#dcdcdc" stroke-width="0.4"/>
<path d="M25.40 700.6h0.80V715.6h-0.80zM35.75 700.6h0.80V715.6h-0.80zM56.90 700.6h1.30V715.6h-1.30zM61.30 700.6h0.35V715.6h-0.35zM61.80 700.6h0.60V715.6h-0.60zM72.65 700.6h1.30V715.6h-1.30zM73.95 700.6h0.80V715.6h-0.80zM79.05 700.6h0.80V715.6h-0.80zM80.00 700.6h0.60V715.6h-0.60zM83.35 700.6h1.00V715.6h-1.00zM91.45 700.6h0.35V715.6h-0.35zM96.25 700.6h1.30V715.6h-1.30zM102.00 700.6h0.60V715.6h-0.60zM106.65 700.6h1.30V715.6h-1.30zM119.50 700.6h0.60V715.6h-0.60z" fill="#a8a8a8"/>
<path d="M27.30 700.6h1.00V715.6h-1.00zM39.90 700.6h0.60V715.6h-0.60zM43.65 700.6h0.35V715.6h-0.35zM60.20 700.6h0.80V715.6h-0.80zM81.10 700.6h0.80V715.6h-0.80zM92.90 700.6h0.60V715.6h-0.60zM103.40 700.6h1.30V715.6h-1.30zM110.45 700.6h0.35V715.6h-0.35zM114.60 700.6h1.00V715.6h-1.00zM128.50 700.6h0.10V715.6h-0.10z" fill="#444"/>
<path d="M28.60 700.6h0.45V715.6h-0.45zM29.05 700.6h0.60V715.6h-0.60zM42.80 700.6h0.35V715.6h-0.35zM94.75 700.6h1.00V715.6h-1.00zM97.85 700.6h1.30V715.6h-1.30zM100.25 700.6h0.45V715.6h-0.45zM112.50 700.6h0.45V715.6h-0.45zM115.90 700.6h0.35V715.6h-0.35zM121.20 700.6h1.30V715.6h-1.30z" fill="#8c8c8c"/>
<path d="M29.95 700.6h1.30V715.6h-1.30zM31.75 700.6h1.30V715.6h-1.30zM37.30 700.6h1.00V715.6h-1.00zM58.50 700.6h0.60V715.6h-0.60zM69.80 700.6h0.45V715.6h-0.45zM71.05 700.6h0.35V715.6h-0.35zM84.50 700.6h0.45V715.6h-0.45zM86.50 700.6h0.60V715.6h-0.60zM93.50 700.6h0.45V715.6h-0.45zM101.00 700.6h1.00V715.6h-1.00zM105.20 700.6h1.30V715.6h-1.30z" fill="#1a1a1a"/>
<path d="M33.85 700.6h0.45V715.6h-0.45zM34.30 700.6h1.30V715.6h-1.30zM38.45 700.6h0.35V715.6h-0.35zM41.35 700.6h1.30V715.6h-1.30zM44.50 700.6h0.45V715.6h-0.45zM45.25 700.6h1.00V715.6h-1.00zM48.50 700.6h0.45V715.6h-0.45zM48.95 700.6h0.80V715.6h-0.80zM50.25 700.6h1.30V715.6h-1.30zM52.05 700.6h0.80V715.6h-0.80zM62.70 700.6h1.00V715.6h-1.00zM75.25 700.6h0.60V715.6h-0.60zM86.05 700.6h0.45V715.6h-0.45zM90.30 700.6h1.00V715.6h-1.00zM110.80 700.6h0.45V715.6h-0.45zM113.45 700.6h0.35V715.6h-0.35zM118.25 700.6h0.45V715.6h-0.45z" fill="#6a6a6a"/>
<path d="M36.70 700.6h0.60V715.6h-0.60zM67.05 700.6h0.35V715.6h-0.35zM72.20 700.6h0.45V715.6h-0.45zM82.40 700.6h0.45V715.6h-0.45zM87.40 700.6h0.45V715.6h-0.45zM111.55 700.6h0.80V715.6h-0.80zM124.85 700.6h1.30V715.6h-1.30zM127.00 700.6h1.00V715.6h-1.00z" fill="#c0c0c0"/>
<path d="M41.00 700.6h0.35V715.6h-0.35zM46.40 700.6h1.30V715.6h-1.30zM53.35 700.6h1.00V715.6h-1.00zM55.45 700.6h1.30V715.6h-1.30zM64.50 700.6h0.45V715.6h-0.45zM65.45 700.6h0.80V715.6h-0.80zM68.50 700.6h0.80V715.6h-0.80zM76.95 700.6h1.30V715.6h-1.30zM87.85 700.6h1.00V715.6h-1.00zM89.00 700.6h1.00V715.6h-1.00zM108.75 700.6h0.60V715.6h-0.60zM116.75 700.6h1.00V715.6h-1.00zM123.30 700.6h0.45V715.6h-0.45zM126.15 700.6h0.35V715.6h-0.35z" fill="#d4d4d4"/>
<rect x="25.0" y="715.6" width="4.6" height="4.2" fill="#d62a1e"/>
<rect x="29.6" y="715.6" width="6.0" height="4.2" fill="#f08080"/>
<rect x="35.6" y="715.6" width="40.6" height="4.2" fill="#f5c6de"/>
<rect x="76.2" y="715.6" width="34.9" height="4.2" fill="#d6d6f8"/>
<rect x="111.1" y="715.6" width="5.9" height="4.2" fill="#c8c8f5"/>
<rect x="117.0" y="715.6" width="11.3" height="4.2" fill="#4a20b0"/>
<text x="22.9" y="732.5" font-size="5.07" fill="#333">REAC - INNATE IMMUNE SYSTEM</text>
<rect x="25" y="734.5" width="108.8" height="48.9" fill="#fff" stroke="#8c8c8c" stroke-width="0.65"/>
<text x="20.0" y="737.0" font-size="4.0" text-anchor="end" fill="#333">0.2</text>
<text x="20.0" y="742.9" font-size="4.0" text-anchor="end" fill="#333">0.1</text>
<text x="20.0" y="749.0" font-size="4.0" text-anchor="end" fill="#333">0</text>
<text x="20.0" y="755.2" font-size="4.0" text-anchor="end" fill="#333">-0.1</text>
<text x="20.0" y="761.4" font-size="4.0" text-anchor="end" fill="#333">-0.2</text>
<text x="20.0" y="767.6" font-size="4.0" text-anchor="end" fill="#333">-0.3</text>
<text x="20.0" y="773.8" font-size="4.0" text-anchor="end" fill="#333">-0.4</text>
<text x="20.0" y="779.9" font-size="4.0" text-anchor="end" fill="#333">-0.5</text>
<path d="M30.8 734.5V783.4M38.9 734.5V783.4M47.0 734.5V783.4M55.0 734.5V783.4M63.1 734.5V783.4M71.2 734.5V783.4M79.3 734.5V783.4M87.4 734.5V783.4M95.4 734.5V783.4M103.5 734.5V783.4M111.6 734.5V783.4M119.7 734.5V783.4M127.8 734.5V783.4M25 735.6H133.8M25 741.5H133.8M25 747.6H133.8M25 753.8H133.8M25 760.0H133.8M25 766.2H133.8M25 772.4H133.8M25 778.5H133.8" stroke="#eeeeee" stroke-width="0.4" fill="none"/>
<text x="4.9" y="759.5" font-size="5.47" text-anchor="middle" transform="rotate(-90 4.9 759.5)">Enrichment score (ES)</text>
<path d="M25.0 742.6L25.6 740.0L26.5 741.1L27.5 737.5L29.6 738.7L33.9 740.4L42.3 745.1L63.5 756.3L84.7 767.5L95.3 773.3L103.7 776.0L110.1 780.2L114.3 781.1L117.9 779.8L118.5 770.1L119.6 765.8L121.1 766.9L121.9 758.4L123.6 757.0L124.9 753.1L126.2 751.4L127.6 747.2" stroke="#3fdc55" stroke-width="0.7" fill="none" stroke-linejoin="round"/>
<text x="28.2" y="768.4" font-size="5.8" textLength="30.41" lengthAdjust="spacingAndGlyphs" fill="#2a2a2a" stroke="#2a2a2a" stroke-width="0.16">NES = –1.01</text>
<text x="28.2" y="775.8" font-size="5.8" fill="#2a2a2a" font-style="italic" stroke="#2a2a2a" stroke-width="0.16">P</text>
<text x="33.2" y="775.8" font-size="5.8" textLength="14.98" lengthAdjust="spacingAndGlyphs" fill="#2a2a2a" stroke="#2a2a2a" stroke-width="0.16">= 0.48</text>
<text x="28.2" y="783.0" font-size="5.8" textLength="27.43" lengthAdjust="spacingAndGlyphs" fill="#2a2a2a" stroke="#2a2a2a" stroke-width="0.16">FDR = 0.77</text>
<rect x="25" y="783.9" width="108.8" height="20.1" fill="#fff" stroke="#dcdcdc" stroke-width="0.4"/>
<path d="M25.40 784.2h0.60V799.8h-0.60zM48.40 784.2h1.30V799.8h-1.30zM58.55 784.2h0.60V799.8h-0.60zM59.45 784.2h0.80V799.8h-0.80zM73.15 784.2h1.30V799.8h-1.30zM107.15 784.2h1.00V799.8h-1.00zM108.15 784.2h0.35V799.8h-0.35zM116.95 784.2h0.45V799.8h-0.45z" fill="#a8a8a8"/>
<path d="M27.10 784.2h1.30V799.8h-1.30zM30.95 784.2h0.45V799.8h-0.45zM36.80 784.2h0.60V799.8h-0.60zM37.55 784.2h0.35V799.8h-0.35zM39.50 784.2h0.45V799.8h-0.45zM40.25 784.2h0.60V799.8h-0.60zM41.00 784.2h0.80V799.8h-0.80zM47.00 784.2h0.60V799.8h-0.60zM69.60 784.2h0.80V799.8h-0.80zM71.35 784.2h1.30V799.8h-1.30zM77.00 784.2h0.60V799.8h-0.60zM99.45 784.2h0.80V799.8h-0.80zM112.15 784.2h0.60V799.8h-0.60z" fill="#1a1a1a"/>
<path d="M28.55 784.2h1.30V799.8h-1.30zM52.40 784.2h1.30V799.8h-1.30zM56.00 784.2h1.00V799.8h-1.00zM57.30 784.2h0.45V799.8h-0.45zM70.40 784.2h0.45V799.8h-0.45zM81.15 784.2h1.30V799.8h-1.30zM83.55 784.2h1.00V799.8h-1.00zM85.65 784.2h0.80V799.8h-0.80zM91.80 784.2h0.60V799.8h-0.60zM92.70 784.2h0.45V799.8h-0.45zM102.65 784.2h0.35V799.8h-0.35zM117.90 784.2h1.00V799.8h-1.00zM119.95 784.2h0.80V799.8h-0.80zM126.00 784.2h0.60V799.8h-0.60z" fill="#c0c0c0"/>
<path d="M31.55 784.2h1.30V799.8h-1.30zM34.25 784.2h0.45V799.8h-0.45zM38.20 784.2h0.80V799.8h-0.80zM46.40 784.2h0.60V799.8h-0.60zM54.20 784.2h1.30V799.8h-1.30zM64.20 784.2h0.45V799.8h-0.45zM65.90 784.2h1.30V799.8h-1.30zM77.90 784.2h0.45V799.8h-0.45zM90.00 784.2h1.00V799.8h-1.00zM98.45 784.2h1.00V799.8h-1.00zM111.55 784.2h0.45V799.8h-0.45zM114.65 784.2h0.45V799.8h-0.45z" fill="#444"/>
<path d="M33.00 784.2h0.45V799.8h-0.45zM64.95 784.2h0.45V799.8h-0.45zM67.70 784.2h0.80V799.8h-0.80zM88.70 784.2h1.00V799.8h-1.00zM94.25 784.2h1.00V799.8h-1.00zM95.40 784.2h0.45V799.8h-0.45zM100.55 784.2h1.30V799.8h-1.30zM105.35 784.2h1.30V799.8h-1.30zM123.55 784.2h0.35V799.8h-0.35zM123.90 784.2h1.00V799.8h-1.00zM128.40 784.2h0.20V799.8h-0.20z" fill="#d4d4d4"/>
<path d="M35.00 784.2h0.35V799.8h-0.35zM42.60 784.2h1.00V799.8h-1.00zM44.70 784.2h0.60V799.8h-0.60zM61.05 784.2h0.60V799.8h-0.60zM61.80 784.2h1.00V799.8h-1.00zM74.60 784.2h1.30V799.8h-1.30zM103.30 784.2h0.35V799.8h-0.35zM108.80 784.2h0.45V799.8h-0.45zM115.25 784.2h0.60V799.8h-0.60zM121.85 784.2h0.60V799.8h-0.60zM122.45 784.2h0.60V799.8h-0.60z" fill="#8c8c8c"/>
<path d="M35.50 784.2h1.30V799.8h-1.30zM50.80 784.2h0.80V799.8h-0.80zM63.60 784.2h0.45V799.8h-0.45zM79.45 784.2h0.60V799.8h-0.60zM87.25 784.2h0.35V799.8h-0.35zM96.35 784.2h1.30V799.8h-1.30zM103.95 784.2h0.60V799.8h-0.60zM110.05 784.2h1.00V799.8h-1.00zM112.75 784.2h0.80V799.8h-0.80zM119.20 784.2h0.45V799.8h-0.45zM127.10 784.2h0.80V799.8h-0.80z" fill="#6a6a6a"/>
<rect x="25.0" y="799.8" width="4.6" height="4.2" fill="#d62a1e"/>
<rect x="29.6" y="799.8" width="6.0" height="4.2" fill="#f08080"/>
<rect x="35.6" y="799.8" width="40.6" height="4.2" fill="#f5c6de"/>
<rect x="76.2" y="799.8" width="34.9" height="4.2" fill="#d6d6f8"/>
<rect x="111.1" y="799.8" width="5.9" height="4.2" fill="#c8c8f5"/>
<rect x="117.0" y="799.8" width="11.3" height="4.2" fill="#4a20b0"/>
<text x="163.3" y="557.3" font-size="5.07" textLength="103.44" lengthAdjust="spacingAndGlyphs" fill="#333">REAC - NERVOUS SYSTEM DEVELOPMENT</text>
<rect x="165.4" y="569.4" width="109.2" height="46.8" fill="#fff" stroke="#8c8c8c" stroke-width="0.65"/>
<text x="160.4" y="572.3" font-size="4.0" text-anchor="end" fill="#333">0.8</text>
<text x="160.4" y="577.8" font-size="4.0" text-anchor="end" fill="#333">0.7</text>
<text x="160.4" y="583.2" font-size="4.0" text-anchor="end" fill="#333">0.6</text>
<text x="160.4" y="588.6" font-size="4.0" text-anchor="end" fill="#333">0.5</text>
<text x="160.4" y="594.0" font-size="4.0" text-anchor="end" fill="#333">0.4</text>
<text x="160.4" y="599.5" font-size="4.0" text-anchor="end" fill="#333">0.3</text>
<text x="160.4" y="604.9" font-size="4.0" text-anchor="end" fill="#333">0.2</text>
<text x="160.4" y="610.3" font-size="4.0" text-anchor="end" fill="#333">0.1</text>
<text x="160.4" y="615.7" font-size="4.0" text-anchor="end" fill="#333">0</text>
<path d="M171.2 569.4V616.2M179.3 569.4V616.2M187.4 569.4V616.2M195.4 569.4V616.2M203.5 569.4V616.2M211.6 569.4V616.2M219.7 569.4V616.2M227.8 569.4V616.2M235.8 569.4V616.2M243.9 569.4V616.2M252.0 569.4V616.2M260.1 569.4V616.2M268.2 569.4V616.2M165.4 570.9H274.6M165.4 576.4H274.6M165.4 581.8H274.6M165.4 587.2H274.6M165.4 592.6H274.6M165.4 598.1H274.6M165.4 603.5H274.6M165.4 608.9H274.6M165.4 614.3H274.6" stroke="#eeeeee" stroke-width="0.4" fill="none"/>
<text x="149.9" y="593.3" font-size="5.47" text-anchor="middle" transform="rotate(-90 149.9 593.3)">Enrichment score (ES)</text>
<path d="M165.4 610.4L165.8 603.0L167.1 596.7L169.2 597.7L170.1 587.6L171.8 586.7L172.8 573.2L174.3 572.3L179.2 573.4L189.7 575.5L203.5 581.9L224.7 592.4L245.8 603.0L254.3 607.5L258.5 608.3L263.8 611.5L269.1 614.7" stroke="#3fdc55" stroke-width="0.7" fill="none" stroke-linejoin="round"/>
<text x="172.8" y="601.5" font-size="5.8" textLength="27.44" lengthAdjust="spacingAndGlyphs" fill="#2a2a2a" stroke="#2a2a2a" stroke-width="0.16">NES = 1.53</text>
<text x="172.8" y="608.5" font-size="5.8" fill="#2a2a2a" font-style="italic" stroke="#2a2a2a" stroke-width="0.16">P</text>
<text x="177.8" y="608.5" font-size="5.8" textLength="17.95" lengthAdjust="spacingAndGlyphs" fill="#2a2a2a" stroke="#2a2a2a" stroke-width="0.16">= 0.008</text>
<text x="172.8" y="615.7" font-size="5.8" textLength="27.43" lengthAdjust="spacingAndGlyphs" fill="#2a2a2a" stroke="#2a2a2a" stroke-width="0.16">FDR = 0.02</text>
<rect x="165.4" y="616.8" width="109.2" height="19.1" fill="#fff" stroke="#dcdcdc" stroke-width="0.4"/>
<path d="M165.60 617.1h7.00V631.8h-7.00zM174.90 617.1h7.90V631.8h-7.90zM184.20 617.1h5.60V631.8h-5.60z" fill="#d2d2d2"/>
<path d="M165.90 617.1h0.35V631.8h-0.35zM177.55 617.1h0.35V631.8h-0.35zM179.92 617.1h0.35V631.8h-0.35zM181.85 617.1h0.35V631.8h-0.35zM189.06 617.1h0.35V631.8h-0.35z" fill="#8a8a8a"/>
<path d="M167.34 617.1h0.35V631.8h-0.35zM169.07 617.1h0.35V631.8h-0.35zM171.07 617.1h0.35V631.8h-0.35zM187.36 617.1h0.35V631.8h-0.35z" fill="#555"/>
<path d="M175.20 617.1h0.35V631.8h-0.35zM176.34 617.1h0.35V631.8h-0.35zM178.46 617.1h0.35V631.8h-0.35zM184.50 617.1h0.35V631.8h-0.35zM185.46 617.1h0.35V631.8h-0.35z" fill="#b0b0b0"/>
<path d="M195.19 617.1h0.45V631.8h-0.45zM210.61 617.1h0.45V631.8h-0.45zM216.21 617.1h0.45V631.8h-0.45zM228.48 617.1h0.45V631.8h-0.45zM250.90 617.1h0.45V631.8h-0.45zM253.53 617.1h0.45V631.8h-0.45z" fill="#666"/>
<path d="M205.70 617.1h0.45V631.8h-0.45zM218.49 617.1h0.45V631.8h-0.45zM240.04 617.1h0.45V631.8h-0.45zM255.81 617.1h0.45V631.8h-0.45zM260.54 617.1h0.45V631.8h-0.45z" fill="#444"/>
<path d="M212.36 617.1h0.45V631.8h-0.45zM221.12 617.1h0.45V631.8h-0.45zM223.22 617.1h0.45V631.8h-0.45zM231.98 617.1h0.45V631.8h-0.45zM235.13 617.1h0.45V631.8h-0.45zM237.76 617.1h0.45V631.8h-0.45zM248.27 617.1h0.45V631.8h-0.45z" fill="#222"/>
<rect x="165.4" y="631.8" width="8.3" height="4.1" fill="#d62a1e"/>
<rect x="173.7" y="631.8" width="16.1" height="4.1" fill="#f08080"/>
<rect x="189.8" y="631.8" width="47.3" height="4.1" fill="#f5c6de"/>
<rect x="237.1" y="631.8" width="24.5" height="4.1" fill="#d6d6f8"/>
<rect x="261.6" y="631.8" width="1.0" height="4.1" fill="#c4c4f4"/>
<rect x="262.6" y="631.8" width="6.4" height="4.1" fill="#4a20b0"/>
<text x="164.1" y="646.8" font-size="5.07" fill="#333">GO:BP - NEUROGENESIS</text>
<rect x="165.4" y="650.2" width="109.2" height="49.0" fill="#fff" stroke="#8c8c8c" stroke-width="0.65"/>
<text x="160.4" y="653.5" font-size="4.0" text-anchor="end" fill="#333">0.6</text>
<text x="160.4" y="660.3" font-size="4.0" text-anchor="end" fill="#333">0.5</text>
<text x="160.4" y="667.1" font-size="4.0" text-anchor="end" fill="#333">0.4</text>
<text x="160.4" y="673.9" font-size="4.0" text-anchor="end" fill="#333">0.3</text>
<text x="160.4" y="680.6" font-size="4.0" text-anchor="end" fill="#333">0.2</text>
<text x="160.4" y="687.4" font-size="4.0" text-anchor="end" fill="#333">0.1</text>
<text x="160.4" y="694.2" font-size="4.0" text-anchor="end" fill="#333">0</text>
<path d="M171.2 650.2V699.2M179.3 650.2V699.2M187.4 650.2V699.2M195.4 650.2V699.2M203.5 650.2V699.2M211.6 650.2V699.2M219.7 650.2V699.2M227.8 650.2V699.2M235.8 650.2V699.2M243.9 650.2V699.2M252.0 650.2V699.2M260.1 650.2V699.2M268.2 650.2V699.2M165.4 652.1H274.6M165.4 658.9H274.6M165.4 665.7H274.6M165.4 672.5H274.6M165.4 679.2H274.6M165.4 686.0H274.6M165.4 692.8H274.6" stroke="#eeeeee" stroke-width="0.4" fill="none"/>
<text x="149.9" y="675.2" font-size="5.47" text-anchor="middle" transform="rotate(-90 149.9 675.2)">Enrichment score (ES)</text>
<path d="M165.4 691.9L166.5 690.9L167.5 682.4L168.6 673.9L169.6 671.8L170.7 665.5L171.8 664.4L172.8 661.2L173.9 652.4L177.0 653.2L184.5 654.9L190.8 656.0L203.5 662.9L224.7 675.6L245.8 687.9L254.3 692.8L260.7 693.9L263.4 696.0L264.9 691.1L266.4 692.8L267.6 691.1L269.1 692.8" stroke="#3fdc55" stroke-width="0.7" fill="none" stroke-linejoin="round"/>
<text x="172.8" y="683.2" font-size="5.8" textLength="27.44" lengthAdjust="spacingAndGlyphs" fill="#2a2a2a" stroke="#2a2a2a" stroke-width="0.16">NES = 1.32</text>
<text x="172.8" y="690.2" font-size="5.8" fill="#2a2a2a" font-style="italic" stroke="#2a2a2a" stroke-width="0.16">P</text>
<text x="177.8" y="690.2" font-size="5.8" textLength="14.98" lengthAdjust="spacingAndGlyphs" fill="#2a2a2a" stroke="#2a2a2a" stroke-width="0.16">= 0.03</text>
<text x="172.8" y="697.2" font-size="5.8" textLength="27.43" lengthAdjust="spacingAndGlyphs" fill="#2a2a2a" stroke="#2a2a2a" stroke-width="0.16">FDR = 0.19</text>
<rect x="165.4" y="699.7" width="109.2" height="19.2" fill="#fff" stroke="#dcdcdc" stroke-width="0.4"/>
<path d="M165.80 700.0h0.45V714.8h-0.45zM178.48 700.0h0.45V714.8h-0.45zM184.28 700.0h0.60V714.8h-0.60zM187.24 700.0h1.00V714.8h-1.00zM205.42 700.0h1.00V714.8h-1.00zM207.87 700.0h0.45V714.8h-0.45zM210.43 700.0h1.30V714.8h-1.30zM215.17 700.0h1.30V714.8h-1.30zM231.76 700.0h0.35V714.8h-0.35zM241.01 700.0h1.00V714.8h-1.00zM245.53 700.0h0.35V714.8h-0.35zM254.72 700.0h0.45V714.8h-0.45zM256.99 700.0h0.80V714.8h-0.80zM261.44 700.0h0.35V714.8h-0.35zM266.34 700.0h0.80V714.8h-0.80z" fill="#c0c0c0"/>
<path d="M166.25 700.0h1.00V714.8h-1.00zM190.38 700.0h0.45V714.8h-0.45zM202.33 700.0h1.00V714.8h-1.00zM203.33 700.0h0.35V714.8h-0.35zM204.01 700.0h0.35V714.8h-0.35zM208.32 700.0h1.00V714.8h-1.00zM218.98 700.0h0.45V714.8h-0.45zM248.60 700.0h1.30V714.8h-1.30zM265.01 700.0h0.45V714.8h-0.45z" fill="#8c8c8c"/>
<path d="M167.41 700.0h1.30V714.8h-1.30zM175.45 700.0h1.00V714.8h-1.00zM181.14 700.0h1.00V714.8h-1.00zM206.97 700.0h0.35V714.8h-0.35zM212.28 700.0h0.35V714.8h-0.35zM217.68 700.0h1.30V714.8h-1.30zM228.75 700.0h0.60V714.8h-0.60zM230.13 700.0h1.30V714.8h-1.30zM236.63 700.0h0.35V714.8h-0.35zM239.33 700.0h0.45V714.8h-0.45zM242.56 700.0h0.60V714.8h-0.60zM246.44 700.0h1.00V714.8h-1.00zM252.72 700.0h0.45V714.8h-0.45zM256.38 700.0h0.60V714.8h-0.60zM258.67 700.0h0.60V714.8h-0.60zM259.81 700.0h1.30V714.8h-1.30z" fill="#d4d4d4"/>
<path d="M169.92 700.0h1.30V714.8h-1.30zM171.22 700.0h0.45V714.8h-0.45zM177.33 700.0h0.60V714.8h-0.60zM191.43 700.0h0.80V714.8h-0.80zM209.65 700.0h0.45V714.8h-0.45zM235.17 700.0h1.30V714.8h-1.30zM251.75 700.0h0.80V714.8h-0.80zM267.47 700.0h0.03V714.8h-0.03z" fill="#a8a8a8"/>
<path d="M171.67 700.0h0.60V714.8h-0.60zM178.93 700.0h1.00V714.8h-1.00zM183.35 700.0h0.60V714.8h-0.60zM190.83 700.0h0.60V714.8h-0.60zM193.11 700.0h0.60V714.8h-0.60zM195.23 700.0h0.60V714.8h-0.60zM196.16 700.0h0.80V714.8h-0.80zM196.96 700.0h0.60V714.8h-0.60zM198.44 700.0h1.00V714.8h-1.00zM219.43 700.0h0.45V714.8h-0.45zM222.46 700.0h0.45V714.8h-0.45zM229.35 700.0h0.45V714.8h-0.45zM233.32 700.0h1.30V714.8h-1.30zM237.75 700.0h0.45V714.8h-0.45zM240.11 700.0h0.35V714.8h-0.35z" fill="#6a6a6a"/>
<path d="M172.44 700.0h1.00V714.8h-1.00zM174.65 700.0h0.80V714.8h-0.80zM188.57 700.0h0.60V714.8h-0.60zM194.26 700.0h0.80V714.8h-0.80zM220.78 700.0h0.80V714.8h-0.80zM223.24 700.0h1.30V714.8h-1.30zM225.09 700.0h0.80V714.8h-0.80zM225.89 700.0h1.30V714.8h-1.30zM237.15 700.0h0.60V714.8h-0.60zM249.90 700.0h1.30V714.8h-1.30zM253.50 700.0h0.35V714.8h-0.35z" fill="#444"/>
<path d="M185.43 700.0h0.60V714.8h-0.60zM200.32 700.0h0.80V714.8h-0.80zM204.91 700.0h0.35V714.8h-0.35zM213.51 700.0h0.45V714.8h-0.45zM220.43 700.0h0.35V714.8h-0.35zM227.52 700.0h0.35V714.8h-0.35zM238.53 700.0h0.80V714.8h-0.80zM244.37 700.0h1.00V714.8h-1.00zM247.60 700.0h0.45V714.8h-0.45zM263.00 700.0h0.80V714.8h-0.80z" fill="#1a1a1a"/>
<rect x="165.4" y="714.8" width="8.3" height="4.1" fill="#d62a1e"/>
<rect x="173.7" y="714.8" width="16.1" height="4.1" fill="#f08080"/>
<rect x="189.8" y="714.8" width="47.3" height="4.1" fill="#f5c6de"/>
<rect x="237.1" y="714.8" width="24.5" height="4.1" fill="#d6d6f8"/>
<rect x="261.6" y="714.8" width="1.0" height="4.1" fill="#c4c4f4"/>
<rect x="262.6" y="714.8" width="6.4" height="4.1" fill="#4a20b0"/>
<text x="164.3" y="733.2" font-size="5.07" fill="#333">GO:BP - CELL MIGRATION</text>
<rect x="166.4" y="736.2" width="108.2" height="47.2" fill="#fff" stroke="#8c8c8c" stroke-width="0.65"/>
<text x="161.4" y="738.7" font-size="4.0" text-anchor="end" fill="#333">0.6</text>
<text x="161.4" y="745.6" font-size="4.0" text-anchor="end" fill="#333">0.5</text>
<text x="161.4" y="752.8" font-size="4.0" text-anchor="end" fill="#333">0.4</text>
<text x="161.4" y="759.8" font-size="4.0" text-anchor="end" fill="#333">0.3</text>
<text x="161.4" y="766.8" font-size="4.0" text-anchor="end" fill="#333">0.2</text>
<text x="161.4" y="773.8" font-size="4.0" text-anchor="end" fill="#333">0.1</text>
<text x="161.4" y="781.2" font-size="4.0" text-anchor="end" fill="#333">0</text>
<path d="M172.2 736.2V783.4M180.3 736.2V783.4M188.4 736.2V783.4M196.4 736.2V783.4M204.5 736.2V783.4M212.6 736.2V783.4M220.7 736.2V783.4M228.8 736.2V783.4M236.8 736.2V783.4M244.9 736.2V783.4M253.0 736.2V783.4M261.1 736.2V783.4M269.2 736.2V783.4M166.4 737.3H274.6M166.4 744.2H274.6M166.4 751.4H274.6M166.4 758.4H274.6M166.4 765.4H274.6M166.4 772.4H274.6M166.4 779.8H274.6" stroke="#eeeeee" stroke-width="0.4" fill="none"/>
<text x="149.9" y="760.3" font-size="5.47" text-anchor="middle" transform="rotate(-90 149.9 760.3)">Enrichment score (ES)</text>
<path d="M166.5 777.5L167.5 775.4L168.6 772.2L170.1 763.7L171.8 753.1L173.4 744.7L174.9 738.7L182.3 738.3L190.8 740.0L197.2 743.6L212.0 752.1L233.1 765.8L254.3 779.6L258.5 781.7L262.8 781.1L265.5 777.1L267.0 779.6L269.1 780.7" stroke="#3fdc55" stroke-width="0.7" fill="none" stroke-linejoin="round"/>
<text x="172.8" y="768.6" font-size="5.8" textLength="27.44" lengthAdjust="spacingAndGlyphs" fill="#2a2a2a" stroke="#2a2a2a" stroke-width="0.16">NES = 1.27</text>
<text x="172.8" y="776.0" font-size="5.8" fill="#2a2a2a" font-style="italic" stroke="#2a2a2a" stroke-width="0.16">P</text>
<text x="177.8" y="776.0" font-size="5.8" textLength="14.98" lengthAdjust="spacingAndGlyphs" fill="#2a2a2a" stroke="#2a2a2a" stroke-width="0.16">= 0.05</text>
<text x="172.8" y="783.2" font-size="5.8" textLength="27.43" lengthAdjust="spacingAndGlyphs" fill="#2a2a2a" stroke="#2a2a2a" stroke-width="0.16">FDR = 0.22</text>
<rect x="166.4" y="783.9" width="108.2" height="20.1" fill="#fff" stroke="#dcdcdc" stroke-width="0.4"/>
<path d="M166.80 784.2h0.60V800.0h-0.60zM177.97 784.2h0.60V800.0h-0.60zM178.57 784.2h0.45V800.0h-0.45zM186.51 784.2h0.35V800.0h-0.35zM188.21 784.2h1.00V800.0h-1.00zM191.09 784.2h0.45V800.0h-0.45zM200.45 784.2h0.60V800.0h-0.60zM245.88 784.2h0.35V800.0h-0.35zM246.37 784.2h1.30V800.0h-1.30zM248.12 784.2h0.45V800.0h-0.45zM267.24 784.2h0.76V800.0h-0.76z" fill="#1a1a1a"/>
<path d="M167.40 784.2h0.35V800.0h-0.35zM181.01 784.2h0.45V800.0h-0.45zM183.62 784.2h0.60V800.0h-0.60zM197.26 784.2h0.60V800.0h-0.60zM219.55 784.2h0.35V800.0h-0.35zM222.91 784.2h1.00V800.0h-1.00zM227.05 784.2h0.45V800.0h-0.45zM234.68 784.2h1.00V800.0h-1.00zM241.81 784.2h1.30V800.0h-1.30zM243.11 784.2h0.45V800.0h-0.45zM254.81 784.2h1.30V800.0h-1.30z" fill="#6a6a6a"/>
<path d="M168.02 784.2h0.80V800.0h-0.80zM207.08 784.2h0.35V800.0h-0.35zM208.36 784.2h1.30V800.0h-1.30zM252.15 784.2h0.35V800.0h-0.35zM253.49 784.2h0.60V800.0h-0.60zM260.44 784.2h0.80V800.0h-0.80zM261.24 784.2h1.30V800.0h-1.30zM265.05 784.2h0.60V800.0h-0.60zM266.79 784.2h0.45V800.0h-0.45z" fill="#8c8c8c"/>
<path d="M169.54 784.2h0.60V800.0h-0.60zM172.03 784.2h0.35V800.0h-0.35zM193.67 784.2h1.00V800.0h-1.00zM201.50 784.2h1.00V800.0h-1.00zM210.11 784.2h0.35V800.0h-0.35zM215.90 784.2h0.80V800.0h-0.80zM217.50 784.2h1.00V800.0h-1.00zM218.95 784.2h0.60V800.0h-0.60zM220.62 784.2h1.30V800.0h-1.30zM236.28 784.2h1.30V800.0h-1.30zM239.30 784.2h0.45V800.0h-0.45zM249.56 784.2h0.35V800.0h-0.35zM257.10 784.2h1.00V800.0h-1.00zM260.09 784.2h0.35V800.0h-0.35z" fill="#c0c0c0"/>
<path d="M171.13 784.2h0.45V800.0h-0.45zM179.02 784.2h1.00V800.0h-1.00zM181.60 784.2h1.30V800.0h-1.30zM184.49 784.2h1.30V800.0h-1.30zM191.68 784.2h1.00V800.0h-1.00zM198.13 784.2h1.00V800.0h-1.00zM199.13 784.2h0.60V800.0h-0.60zM204.74 784.2h0.45V800.0h-0.45zM216.70 784.2h0.35V800.0h-0.35zM231.71 784.2h1.00V800.0h-1.00zM233.16 784.2h0.80V800.0h-0.80zM240.74 784.2h0.35V800.0h-0.35zM245.08 784.2h0.35V800.0h-0.35zM258.82 784.2h1.00V800.0h-1.00zM263.26 784.2h0.80V800.0h-0.80zM265.92 784.2h0.60V800.0h-0.60z" fill="#a8a8a8"/>
<path d="M173.10 784.2h0.80V800.0h-0.80zM174.70 784.2h0.80V800.0h-0.80zM195.39 784.2h0.35V800.0h-0.35zM195.74 784.2h0.80V800.0h-0.80zM202.77 784.2h0.45V800.0h-0.45zM207.56 784.2h0.80V800.0h-0.80zM210.60 784.2h1.30V800.0h-1.30zM212.03 784.2h1.30V800.0h-1.30zM214.85 784.2h0.60V800.0h-0.60zM224.05 784.2h0.60V800.0h-0.60zM225.10 784.2h0.45V800.0h-0.45zM228.49 784.2h0.80V800.0h-0.80zM235.68 784.2h0.60V800.0h-0.60z" fill="#d4d4d4"/>
<path d="M173.90 784.2h0.35V800.0h-0.35zM176.22 784.2h1.30V800.0h-1.30zM187.31 784.2h0.45V800.0h-0.45zM189.66 784.2h1.30V800.0h-1.30zM203.94 784.2h0.35V800.0h-0.35zM205.91 784.2h0.45V800.0h-0.45zM214.05 784.2h0.80V800.0h-0.80zM226.00 784.2h0.60V800.0h-0.60zM230.28 784.2h1.30V800.0h-1.30zM237.85 784.2h1.00V800.0h-1.00zM244.01 784.2h0.80V800.0h-0.80zM250.90 784.2h0.80V800.0h-0.80z" fill="#444"/>
<rect x="166.4" y="800.0" width="7.9" height="4.0" fill="#d62a1e"/>
<rect x="174.7" y="800.0" width="15.7" height="4.0" fill="#f08080"/>
<rect x="190.8" y="800.0" width="46.9" height="4.0" fill="#f5c6de"/>
<rect x="238.1" y="800.0" width="24.1" height="4.0" fill="#d6d6f8"/>
<rect x="262.6" y="800.0" width="0.6" height="4.0" fill="#c4c4f4"/>
<rect x="263.6" y="800.0" width="6.0" height="4.0" fill="#4a20b0"/>
<path d="M398.8 738.1Q377.2 664.9 382.9 588.8M400.3 737.6Q378.9 664.9 390.3 589.9M401.7 737.1Q383.9 665.5 408.0 595.7M403.2 736.5Q385.7 666.1 417.3 600.9M404.7 736.0Q385.2 666.5 424.1 605.8M406.1 735.3Q380.0 666.1 433.1 614.5M407.6 734.7Q382.6 666.9 437.0 619.2M409.0 734.0Q391.8 669.3 438.4 621.3M410.4 733.3Q384.7 668.9 448.5 641.6M411.8 732.6Q388.3 670.6 449.7 645.8M413.2 731.8Q384.1 670.5 452.0 670.1M414.6 731.0Q390.9 675.2 451.6 675.0M415.9 730.2Q393.5 678.8 448.9 687.4M417.3 729.4Q386.0 674.1 445.0 697.6M418.6 728.5Q383.1 671.8 443.3 701.0M419.9 727.6Q384.9 674.2 439.1 708.0M421.2 726.7Q380.8 670.8 433.1 715.7" stroke="#e6ab02" stroke-opacity="0.75" stroke-width="0.36" fill="none"/>
<path d="M309.9 704.5Q366.7 659.9 377.5 588.5M311.2 706.7Q366.9 659.8 383.4 588.9M312.7 708.8Q367.6 659.9 389.9 589.8M314.1 710.8Q371.7 662.5 394.1 590.8M315.7 712.8Q369.8 661.1 399.4 592.3M317.3 714.8Q370.6 661.6 402.7 593.5M319.0 716.7Q373.4 663.5 407.1 595.3M320.7 718.6Q374.2 664.0 410.4 596.8M322.5 720.3Q374.8 664.5 417.1 600.7M324.4 722.1Q374.8 664.4 421.9 604.0M326.3 723.7Q375.6 665.1 424.1 605.8M328.3 725.3Q376.3 665.7 428.8 610.0M330.3 726.9Q376.4 665.8 430.7 611.9M332.4 728.3Q377.8 667.1 433.9 615.4M334.5 729.7Q377.6 666.9 436.3 618.4M336.7 731.1Q379.4 668.6 438.2 621.0M338.9 732.3Q378.7 668.0 440.5 624.4M341.1 733.5Q377.8 667.3 443.6 629.8M343.4 734.6Q381.8 671.3 445.3 633.4M345.7 735.6Q381.6 671.2 446.9 637.0M348.1 736.6Q380.2 669.8 447.9 639.7M350.5 737.5Q382.9 672.8 449.2 643.8M352.9 738.3Q381.0 671.0 450.3 648.3M355.3 739.0Q384.1 674.7 451.4 654.2M357.8 739.6Q381.7 672.2 451.9 658.3M360.3 740.1Q384.0 674.9 452.1 661.2M362.8 740.6Q381.0 671.5 452.2 665.4M365.3 741.0Q380.1 670.5 452.1 669.4M367.8 741.3Q387.1 679.4 451.7 673.6M370.3 741.5Q384.4 676.4 450.9 679.2M372.9 741.7Q382.1 673.6 450.3 682.2M375.4 741.7Q381.7 673.1 449.5 685.2M377.9 741.7Q387.1 680.9 447.7 690.9M380.5 741.5Q386.6 680.3 446.6 693.9M383.0 741.3Q385.8 679.7 444.5 698.6M385.5 741.1Q386.2 681.6 440.5 705.8M388.0 740.7Q385.1 682.0 433.5 715.3M390.5 740.2Q383.2 679.0 430.8 718.2M393.0 739.7Q384.7 682.6 426.9 722.0M395.5 739.1Q386.9 686.8 424.6 724.0" stroke="#66a61e" stroke-opacity="0.75" stroke-width="0.36" fill="none"/>
<path d="M299.0 667.6Q370.5 659.9 379.6 588.6M299.1 669.4Q371.4 658.5 411.6 597.5M299.2 671.1Q372.8 660.1 421.2 603.5M299.4 672.9Q371.5 656.9 427.3 608.5M299.6 674.6Q374.1 661.6 435.9 617.9M299.8 676.4Q374.6 662.5 439.4 622.6M300.1 678.1Q374.2 661.5 440.6 624.5M300.4 679.9Q374.9 662.9 445.0 632.7M300.8 681.6Q375.4 664.3 448.5 641.7M301.2 683.3Q375.6 665.0 449.7 645.8M301.6 685.1Q375.9 667.0 451.8 657.2M302.1 686.8Q376.1 668.7 452.2 664.9M302.6 688.4Q376.0 668.4 452.1 668.9M303.2 690.1Q375.9 667.5 451.7 674.2M303.8 691.8Q375.8 668.3 450.1 682.8M304.4 693.4Q376.0 673.5 449.1 686.8M305.1 695.1Q375.6 669.3 446.0 695.3M305.8 696.7Q375.4 669.5 442.4 702.6M306.6 698.3Q374.3 674.2 432.5 716.4M307.4 699.9Q374.2 673.9 430.3 718.7M308.2 701.5Q373.6 677.1 427.6 721.3" stroke="#e7298a" stroke-opacity="0.75" stroke-width="0.36" fill="none"/>
<path d="M300.1 652.3Q364.6 651.3 379.4 588.6M299.8 653.8Q369.1 655.2 395.6 591.2M299.6 655.4Q373.0 657.6 428.8 610.0M299.4 656.9Q374.0 660.1 433.4 614.8M299.3 658.4Q373.5 656.9 438.9 621.9M299.2 660.0Q375.2 662.3 448.0 640.2M299.1 661.5Q375.3 662.6 449.2 643.8M299.0 663.1Q375.5 663.5 451.2 653.1M299.0 664.6Q375.0 667.6 442.9 701.7" stroke="#7570b3" stroke-opacity="0.75" stroke-width="0.36" fill="none"/>
<path d="M334.7 600.3Q373.6 657.7 377.9 588.5M333.0 601.4Q374.0 653.3 400.2 592.6M331.3 602.6Q374.5 656.1 404.1 594.0M329.7 603.8Q373.6 648.1 405.9 594.7M328.1 605.0Q374.7 655.0 411.8 597.6M326.5 606.3Q374.9 656.8 413.5 598.5M324.9 607.7Q375.4 652.6 424.6 606.2M323.4 609.0Q375.6 656.2 428.0 609.3M321.9 610.4Q375.8 659.4 433.7 615.2M320.5 611.9Q377.2 651.0 441.1 625.4M319.1 613.4Q376.6 657.7 443.5 629.6M317.7 614.9Q377.6 651.2 445.1 632.8M316.4 616.5Q377.4 653.3 446.8 636.8M315.2 618.0Q377.6 654.0 448.5 641.6M313.9 619.7Q376.4 660.7 449.1 643.5M312.7 621.3Q377.2 656.9 450.3 648.2M311.6 623.0Q377.2 657.7 451.3 653.2M310.5 624.7Q376.6 660.5 451.6 655.9M309.4 626.5Q377.1 659.5 452.2 665.9M308.4 628.3Q376.1 663.4 452.1 668.8M307.5 630.1Q376.7 661.6 451.7 674.0M306.6 631.9Q376.5 662.3 451.3 677.1M305.7 633.7Q376.1 663.6 450.4 681.4M304.9 635.6Q375.9 664.2 449.0 687.0M304.1 637.5Q375.2 666.0 444.6 698.5M303.4 639.4Q374.8 666.8 442.7 702.1M302.8 641.3Q374.7 667.0 440.3 706.1M302.2 643.3Q374.1 668.2 438.2 709.3M301.6 645.3Q374.1 668.1 435.3 713.1M301.1 647.2Q374.1 668.0 432.8 716.0M300.7 649.2Q372.0 671.2 425.2 723.5" stroke="#d95f02" stroke-opacity="0.75" stroke-width="0.36" fill="none"/>
<path d="M374.3 588.5Q381.2 644.1 414.7 599.2M371.1 588.6Q378.5 654.2 417.1 600.7M368.0 588.9Q384.1 648.4 441.5 626.1M364.9 589.3Q378.6 659.2 443.4 629.5M361.7 589.8Q385.2 647.8 447.0 637.2M358.6 590.4Q383.6 654.7 452.2 662.5M355.6 591.2Q384.1 655.1 451.8 672.7M352.6 592.0Q382.3 657.3 451.2 677.3M349.6 593.1Q381.6 659.4 446.0 695.2M346.6 594.2Q378.9 662.1 443.3 701.0M343.7 595.5Q377.7 663.4 437.8 709.8M340.9 596.8Q377.9 663.3 433.1 715.8M338.1 598.3Q377.8 663.4 431.0 718.0" stroke="#1b9e77" stroke-opacity="0.75" stroke-width="0.36" fill="none"/>
<path d="M428.44 734.97A87.6 87.6 0 0 1 401.21 748.87L398.64 740.46A78.8 78.8 0 0 0 423.13 727.95Z" fill="#e6ab02"/>
<path d="M399.75 749.31A87.6 87.6 0 0 1 299.74 708.90L307.36 704.50A78.8 78.8 0 0 0 397.32 740.85Z" fill="#66a61e"/>
<path d="M298.98 707.57A87.6 87.6 0 0 1 288.02 666.93L296.82 666.75A78.8 78.8 0 0 0 306.68 703.30Z" fill="#e7298a"/>
<path d="M288.00 665.41A87.6 87.6 0 0 1 289.38 649.59L298.05 651.15A78.8 78.8 0 0 0 296.80 665.38Z" fill="#7570b3"/>
<path d="M289.67 648.09A87.6 87.6 0 0 1 329.83 590.41L334.43 597.91A78.8 78.8 0 0 0 298.30 649.79Z" fill="#d95f02"/>
<path d="M331.14 589.62A87.6 87.6 0 0 1 375.91 577.50L375.88 586.30A78.8 78.8 0 0 0 335.61 597.20Z" fill="#1b9e77"/>
<path d="M377.14 577.51A87.6 87.6 0 0 1 380.70 577.65L380.19 586.43A78.8 78.8 0 0 0 376.99 586.31Z" fill="#000"/>
<text x="379.0" y="576.2" font-size="3.4" fill="#1a1a1a" stroke="#1a1a1a" stroke-width="0.08" transform="rotate(-87.8 379.0 576.2)" dy="1.1">SULF2</text>
<path d="M381.95 577.73A87.6 87.6 0 0 1 385.49 578.06L384.50 586.80A78.8 78.8 0 0 0 381.31 586.51Z" fill="#000"/>
<text x="383.9" y="576.5" font-size="3.4" fill="#1a1a1a" stroke="#1a1a1a" stroke-width="0.08" transform="rotate(-84.7 383.9 576.5)" dy="1.1">SST</text>
<path d="M386.73 578.21A87.6 87.6 0 0 1 390.26 578.73L388.78 587.41A78.8 78.8 0 0 0 385.62 586.94Z" fill="#000"/>
<text x="388.7" y="577.1" font-size="3.4" fill="#1a1a1a" stroke="#1a1a1a" stroke-width="0.08" transform="rotate(-81.5 388.7 577.1)" dy="1.1">SERPINF1</text>
<path d="M391.49 578.95A87.6 87.6 0 0 1 394.97 579.67L393.03 588.25A78.8 78.8 0 0 0 389.89 587.61Z" fill="#000"/>
<text x="393.5" y="577.9" font-size="3.4" fill="#1a1a1a" stroke="#1a1a1a" stroke-width="0.08" transform="rotate(-78.4 393.5 577.9)" dy="1.1">STAMBL2</text>
<path d="M396.19 579.95A87.6 87.6 0 0 1 399.63 580.86L397.22 589.32A78.8 78.8 0 0 0 394.12 588.51Z" fill="#000"/>
<text x="398.3" y="579.0" font-size="3.4" fill="#1a1a1a" stroke="#1a1a1a" stroke-width="0.08" transform="rotate(-75.2 398.3 579.0)" dy="1.1">PSAP</text>
<path d="M400.83 581.21A87.6 87.6 0 0 1 404.22 582.31L401.35 590.62A78.8 78.8 0 0 0 398.30 589.64Z" fill="#000"/>
<text x="403.0" y="580.4" font-size="3.4" fill="#1a1a1a" stroke="#1a1a1a" stroke-width="0.08" transform="rotate(-72.1 403.0 580.4)" dy="1.1">PRCP</text>
<path d="M405.40 582.73A87.6 87.6 0 0 1 408.72 584.00L405.40 592.15A78.8 78.8 0 0 0 402.41 591.00Z" fill="#000"/>
<text x="407.6" y="582.0" font-size="3.4" fill="#1a1a1a" stroke="#1a1a1a" stroke-width="0.08" transform="rotate(-68.9 407.6 582.0)" dy="1.1">PPIA</text>
<path d="M409.88 584.49A87.6 87.6 0 0 1 413.13 585.94L409.36 593.90A78.8 78.8 0 0 0 406.43 592.58Z" fill="#000"/>
<text x="412.1" y="583.9" font-size="3.4" fill="#1a1a1a" stroke="#1a1a1a" stroke-width="0.08" transform="rotate(-65.8 412.1 583.9)" dy="1.1">PKM</text>
<path d="M414.25 586.49A87.6 87.6 0 0 1 417.41 588.12L413.21 595.86A78.8 78.8 0 0 0 410.37 594.39Z" fill="#000"/>
<text x="416.5" y="586.0" font-size="3.4" fill="#1a1a1a" stroke="#1a1a1a" stroke-width="0.08" transform="rotate(-62.7 416.5 586.0)" dy="1.1">PI16</text>
<path d="M418.51 588.73A87.6 87.6 0 0 1 421.58 590.53L416.96 598.03A78.8 78.8 0 0 0 414.20 596.40Z" fill="#000"/>
<text x="420.8" y="588.4" font-size="3.4" fill="#1a1a1a" stroke="#1a1a1a" stroke-width="0.08" transform="rotate(-59.5 420.8 588.4)" dy="1.1">PCOLCE</text>
<path d="M422.64 591.20A87.6 87.6 0 0 1 425.60 593.17L420.58 600.40A78.8 78.8 0 0 0 417.91 598.62Z" fill="#000"/>
<text x="424.9" y="591.0" font-size="3.4" fill="#1a1a1a" stroke="#1a1a1a" stroke-width="0.08" transform="rotate(-56.4 424.9 591.0)" dy="1.1">NPC2</text>
<path d="M426.62 593.89A87.6 87.6 0 0 1 429.47 596.02L424.06 602.96A78.8 78.8 0 0 0 421.50 601.05Z" fill="#000"/>
<text x="428.9" y="593.8" font-size="3.4" fill="#1a1a1a" stroke="#1a1a1a" stroke-width="0.08" transform="rotate(-53.2 428.9 593.8)" dy="1.1">NID1</text>
<path d="M430.45 596.80A87.6 87.6 0 0 1 433.18 599.09L427.40 605.72A78.8 78.8 0 0 0 424.94 603.66Z" fill="#000"/>
<text x="432.7" y="596.9" font-size="3.4" fill="#1a1a1a" stroke="#1a1a1a" stroke-width="0.08" transform="rotate(-50.1 432.7 596.9)" dy="1.1">NEO1</text>
<path d="M434.12 599.91A87.6 87.6 0 0 1 436.72 602.35L430.58 608.65A78.8 78.8 0 0 0 428.24 606.46Z" fill="#000"/>
<text x="436.4" y="600.1" font-size="3.4" fill="#1a1a1a" stroke="#1a1a1a" stroke-width="0.08" transform="rotate(-46.9 436.4 600.1)" dy="1.1">NCAN</text>
<path d="M437.61 603.22A87.6 87.6 0 0 1 440.07 605.80L433.60 611.75A78.8 78.8 0 0 0 431.38 609.44Z" fill="#000"/>
<text x="439.9" y="603.5" font-size="3.4" fill="#1a1a1a" stroke="#1a1a1a" stroke-width="0.08" transform="rotate(-43.8 439.9 603.5)" dy="1.1">NCAM2</text>
<path d="M440.91 606.72A87.6 87.6 0 0 1 443.23 609.42L436.44 615.02A78.8 78.8 0 0 0 434.35 612.59Z" fill="#000"/>
<text x="443.1" y="607.1" font-size="3.4" fill="#1a1a1a" stroke="#1a1a1a" stroke-width="0.08" transform="rotate(-40.6 443.1 607.1)" dy="1.1">MMRN2</text>
<path d="M444.02 610.40A87.6 87.6 0 0 1 446.19 613.22L439.09 618.43A78.8 78.8 0 0 0 437.15 615.89Z" fill="#000"/>
<text x="446.2" y="610.9" font-size="3.4" fill="#1a1a1a" stroke="#1a1a1a" stroke-width="0.08" transform="rotate(-37.5 446.2 610.9)" dy="1.1">MMP2</text>
<path d="M446.92 614.23A87.6 87.6 0 0 1 448.93 617.17L441.56 621.99A78.8 78.8 0 0 0 439.75 619.34Z" fill="#000"/>
<text x="449.1" y="614.9" font-size="3.4" fill="#1a1a1a" stroke="#1a1a1a" stroke-width="0.08" transform="rotate(-34.3 449.1 614.9)" dy="1.1">MEGF8</text>
<path d="M449.60 618.22A87.6 87.6 0 0 1 451.45 621.27L443.83 625.67A78.8 78.8 0 0 0 442.17 622.93Z" fill="#000"/>
<text x="451.7" y="619.0" font-size="3.4" fill="#1a1a1a" stroke="#1a1a1a" stroke-width="0.08" transform="rotate(-31.2 451.7 619.0)" dy="1.1">MCAM</text>
<path d="M452.06 622.36A87.6 87.6 0 0 1 453.74 625.50L445.89 629.48A78.8 78.8 0 0 0 444.38 626.65Z" fill="#000"/>
<text x="454.2" y="623.3" font-size="3.4" fill="#1a1a1a" stroke="#1a1a1a" stroke-width="0.08" transform="rotate(-28.0 454.2 623.3)" dy="1.1">LAMA2</text>
<path d="M454.30 626.62A87.6 87.6 0 0 1 455.79 629.85L447.74 633.39A78.8 78.8 0 0 0 446.39 630.49Z" fill="#000"/>
<text x="456.3" y="627.6" font-size="3.4" fill="#1a1a1a" stroke="#1a1a1a" stroke-width="0.08" transform="rotate(-24.9 456.3 627.6)" dy="1.1">IGF2</text>
<path d="M456.29 631.00A87.6 87.6 0 0 1 457.61 634.30L449.37 637.40A78.8 78.8 0 0 0 448.18 634.42Z" fill="#000"/>
<text x="458.3" y="632.1" font-size="3.4" fill="#1a1a1a" stroke="#1a1a1a" stroke-width="0.08" transform="rotate(-21.7 458.3 632.1)" dy="1.1">FKBP5</text>
<path d="M458.04 635.48A87.6 87.6 0 0 1 459.18 638.85L450.78 641.49A78.8 78.8 0 0 0 449.76 638.45Z" fill="#000"/>
<text x="460.0" y="636.7" font-size="3.4" fill="#1a1a1a" stroke="#1a1a1a" stroke-width="0.08" transform="rotate(-18.6 460.0 636.7)" dy="1.1">HPX</text>
<path d="M459.54 640.05A87.6 87.6 0 0 1 460.49 643.48L451.96 645.65A78.8 78.8 0 0 0 451.11 642.56Z" fill="#000"/>
<text x="461.4" y="641.4" font-size="3.4" fill="#1a1a1a" stroke="#1a1a1a" stroke-width="0.08" transform="rotate(-15.5 461.4 641.4)" dy="1.1">HP</text>
<path d="M460.79 644.69A87.6 87.6 0 0 1 461.55 648.17L452.91 649.87A78.8 78.8 0 0 0 452.23 646.74Z" fill="#000"/>
<text x="462.6" y="646.1" font-size="3.4" fill="#1a1a1a" stroke="#1a1a1a" stroke-width="0.08" transform="rotate(-12.3 462.6 646.1)" dy="1.1">HLA–C</text>
<path d="M461.78 649.40A87.6 87.6 0 0 1 462.35 652.91L453.63 654.14A78.8 78.8 0 0 0 453.12 650.98Z" fill="#000"/>
<text x="463.5" y="650.9" font-size="3.4" fill="#1a1a1a" stroke="#1a1a1a" stroke-width="0.08" transform="rotate(-9.2 463.5 650.9)" dy="1.1">HLA–A</text>
<path d="M462.51 654.15A87.6 87.6 0 0 1 462.89 657.70L454.12 658.44A78.8 78.8 0 0 0 453.78 655.25Z" fill="#000"/>
<text x="464.1" y="655.8" font-size="3.4" fill="#1a1a1a" stroke="#1a1a1a" stroke-width="0.08" transform="rotate(-6.0 464.1 655.8)" dy="1.1">HEXB</text>
<path d="M462.98 658.94A87.6 87.6 0 0 1 463.16 662.50L454.37 662.76A78.8 78.8 0 0 0 454.21 659.56Z" fill="#000"/>
<text x="464.5" y="660.6" font-size="3.4" fill="#1a1a1a" stroke="#1a1a1a" stroke-width="0.08" transform="rotate(-2.9 464.5 660.6)" dy="1.1">HAVCR2</text>
<path d="M463.19 663.75A87.6 87.6 0 0 1 463.17 667.31L454.37 667.09A78.8 78.8 0 0 0 454.39 663.88Z" fill="#000"/>
<text x="464.6" y="665.5" font-size="3.4" fill="#1a1a1a" stroke="#1a1a1a" stroke-width="0.08" transform="rotate(0.3 464.6 665.5)" dy="1.1">GPC1</text>
<path d="M463.13 668.56A87.6 87.6 0 0 1 462.92 672.11L454.15 671.41A78.8 78.8 0 0 0 454.34 668.21Z" fill="#000"/>
<text x="464.4" y="670.4" font-size="3.4" fill="#1a1a1a" stroke="#1a1a1a" stroke-width="0.08" transform="rotate(3.4 464.4 670.4)" dy="1.1">DLD</text>
<path d="M462.81 673.36A87.6 87.6 0 0 1 462.40 676.89L453.68 675.71A78.8 78.8 0 0 0 454.05 672.53Z" fill="#000"/>
<text x="464.0" y="675.3" font-size="3.4" fill="#1a1a1a" stroke="#1a1a1a" stroke-width="0.08" transform="rotate(6.6 464.0 675.3)" dy="1.1">GAA</text>
<path d="M462.23 678.13A87.6 87.6 0 0 1 461.62 681.64L452.98 679.98A78.8 78.8 0 0 0 453.52 676.82Z" fill="#000"/>
<text x="463.3" y="680.1" font-size="3.4" fill="#1a1a1a" stroke="#1a1a1a" stroke-width="0.08" transform="rotate(9.7 463.3 680.1)" dy="1.1">GAPDH</text>
<path d="M461.38 682.87A87.6 87.6 0 0 1 460.59 686.34L452.05 684.20A78.8 78.8 0 0 0 452.76 681.08Z" fill="#000"/>
<text x="462.4" y="684.9" font-size="3.4" fill="#1a1a1a" stroke="#1a1a1a" stroke-width="0.08" transform="rotate(12.9 462.4 684.9)" dy="1.1">ENPP2</text>
<path d="M460.27 687.55A87.6 87.6 0 0 1 459.29 690.97L450.89 688.37A78.8 78.8 0 0 0 451.77 685.29Z" fill="#000"/>
<text x="461.1" y="689.7" font-size="3.4" fill="#1a1a1a" stroke="#1a1a1a" stroke-width="0.08" transform="rotate(16.0 461.1 689.7)" dy="1.1">SDC2</text>
<path d="M458.91 692.16A87.6 87.6 0 0 1 457.75 695.53L449.49 692.47A78.8 78.8 0 0 0 450.55 689.44Z" fill="#000"/>
<text x="459.7" y="694.3" font-size="3.4" fill="#1a1a1a" stroke="#1a1a1a" stroke-width="0.08" transform="rotate(19.2 459.7 694.3)" dy="1.1">CST3</text>
<path d="M457.30 696.70A87.6 87.6 0 0 1 455.95 699.99L447.88 696.48A78.8 78.8 0 0 0 449.10 693.52Z" fill="#000"/>
<text x="457.9" y="698.9" font-size="3.4" fill="#1a1a1a" stroke="#1a1a1a" stroke-width="0.08" transform="rotate(22.3 457.9 698.9)" dy="1.1">CNTN2</text>
<path d="M455.45 701.13A87.6 87.6 0 0 1 453.92 704.35L446.05 700.41A78.8 78.8 0 0 0 447.42 697.51Z" fill="#000"/>
<text x="456.0" y="703.4" font-size="3.4" fill="#1a1a1a" stroke="#1a1a1a" stroke-width="0.08" transform="rotate(25.5 456.0 703.4)" dy="1.1">CHL1</text>
<path d="M453.35 705.46A87.6 87.6 0 0 1 451.64 708.59L444.00 704.22A78.8 78.8 0 0 0 445.54 701.41Z" fill="#000"/>
<text x="453.7" y="707.7" font-size="3.4" fill="#1a1a1a" stroke="#1a1a1a" stroke-width="0.08" transform="rotate(28.6 453.7 707.7)" dy="1.1">CHI3L1</text>
<path d="M451.01 709.67A87.6 87.6 0 0 1 449.14 712.70L441.75 707.91A78.8 78.8 0 0 0 443.44 705.19Z" fill="#000"/>
<text x="451.3" y="711.9" font-size="3.4" fill="#1a1a1a" stroke="#1a1a1a" stroke-width="0.08" transform="rotate(31.7 451.3 711.9)" dy="1.1">CFD</text>
<path d="M448.45 713.74A87.6 87.6 0 0 1 446.42 716.66L439.30 711.48A78.8 78.8 0 0 0 441.14 708.85Z" fill="#000"/>
<text x="448.6" y="716.0" font-size="3.4" fill="#1a1a1a" stroke="#1a1a1a" stroke-width="0.08" transform="rotate(34.9 448.6 716.0)" dy="1.1">CDH4</text>
<path d="M445.67 717.67A87.6 87.6 0 0 1 443.48 720.47L436.66 714.91A78.8 78.8 0 0 0 438.64 712.39Z" fill="#000"/>
<text x="445.7" y="719.9" font-size="3.4" fill="#1a1a1a" stroke="#1a1a1a" stroke-width="0.08" transform="rotate(38.0 445.7 719.9)" dy="1.1">CDH8</text>
<path d="M442.68 721.43A87.6 87.6 0 0 1 440.34 724.11L433.84 718.19A78.8 78.8 0 0 0 435.94 715.78Z" fill="#000"/>
<text x="442.6" y="723.7" font-size="3.4" fill="#1a1a1a" stroke="#1a1a1a" stroke-width="0.08" transform="rotate(41.2 442.6 723.7)" dy="1.1">CAMK2A</text>
<path d="M439.49 725.03A87.6 87.6 0 0 1 437.00 727.58L430.83 721.30A78.8 78.8 0 0 0 433.07 719.01Z" fill="#000"/>
<text x="439.3" y="727.3" font-size="3.4" fill="#1a1a1a" stroke="#1a1a1a" stroke-width="0.08" transform="rotate(44.3 439.3 727.3)" dy="1.1">APP</text>
<path d="M436.10 728.45A87.6 87.6 0 0 1 433.48 730.85L427.67 724.25A78.8 78.8 0 0 0 430.03 722.08Z" fill="#000"/>
<text x="435.8" y="730.7" font-size="3.4" fill="#1a1a1a" stroke="#1a1a1a" stroke-width="0.08" transform="rotate(47.5 435.8 730.7)" dy="1.1">ALDOC</text>
<path d="M432.54 731.67A87.6 87.6 0 0 1 429.78 733.93L424.34 727.02A78.8 78.8 0 0 0 426.82 724.99Z" fill="#000"/>
<text x="432.1" y="733.9" font-size="3.4" fill="#1a1a1a" stroke="#1a1a1a" stroke-width="0.08" transform="rotate(50.6 432.1 733.9)" dy="1.1">ASPH</text>
<rect x="288.0" y="775.1" width="1.8" height="1.8" rx="0.5" fill="#1b9e77"/>
<text x="291.8" y="777.6" font-size="4.68" fill="#333">Extracellular space</text>
<rect x="288.0" y="780.2" width="1.8" height="1.8" rx="0.5" fill="#d95f02"/>
<text x="291.8" y="782.7" font-size="4.68" fill="#333">Response to external stimulus</text>
<rect x="288.0" y="785.2" width="1.8" height="1.8" rx="0.5" fill="#7570b3"/>
<text x="291.8" y="787.7" font-size="4.68" fill="#333">Axon development</text>
<rect x="288.0" y="790.3" width="1.8" height="1.8" rx="0.5" fill="#e7298a"/>
<text x="291.8" y="792.8" font-size="4.68" fill="#333">Neuron projection development</text>
<rect x="288.0" y="795.3" width="1.8" height="1.8" rx="0.5" fill="#66a61e"/>
<text x="291.8" y="797.8" font-size="4.68" fill="#333">Anatomical structure development</text>
<rect x="288.0" y="800.4" width="1.8" height="1.8" rx="0.5" fill="#e6ab02"/>
<text x="291.8" y="802.9" font-size="4.68" fill="#333">Cell adhesion</text>
<path d="M600.2 739.2Q585.6 662.9 586.4 585.2M602.7 738.6Q586.1 663.0 595.3 586.1M605.2 737.9Q589.9 664.2 626.6 598.4M607.7 737.1Q588.3 664.2 635.0 605.0M610.2 736.2Q588.2 664.2 637.8 607.6M612.6 735.3Q598.3 667.9 648.4 620.5M615.0 734.2Q597.7 668.5 653.6 630.0M617.3 733.1Q597.9 668.9 655.5 634.3M619.6 732.0Q592.5 667.3 658.5 643.5M621.9 730.7Q599.0 672.8 660.9 666.4M624.1 729.4Q589.8 669.1 653.6 696.3M626.3 728.0Q591.4 670.8 651.4 700.6" stroke="#e6ab02" stroke-opacity="0.75" stroke-width="0.36" fill="none"/>
<path d="M535.8 725.2Q578.3 661.4 587.5 585.2M537.9 726.7Q578.8 661.5 591.7 585.6M540.0 728.2Q581.2 662.4 595.8 586.2M542.1 729.5Q579.8 661.8 601.0 587.2M544.4 730.9Q582.1 662.7 607.6 589.1M546.6 732.1Q582.8 663.0 618.1 593.5M548.9 733.3Q583.3 663.2 620.3 594.6M551.2 734.3Q584.8 664.1 626.6 598.4M553.6 735.3Q586.1 665.1 635.1 605.0M556.0 736.3Q584.7 664.3 642.1 612.2M558.4 737.1Q586.8 665.9 646.0 617.1M560.9 737.9Q586.2 665.7 651.7 626.2M563.3 738.6Q590.3 669.6 655.6 634.7M565.8 739.2Q589.6 669.7 659.1 645.8M568.4 739.7Q591.3 671.5 659.9 650.2M570.9 740.2Q587.1 667.5 660.7 656.4M573.4 740.5Q589.4 671.2 660.5 672.3M576.0 740.8Q588.1 670.1 659.0 680.6M578.6 741.0Q592.7 677.4 656.9 688.0M581.1 741.1Q591.7 676.2 655.7 691.3M583.7 741.1Q587.4 670.4 651.8 699.8M586.3 741.0Q588.4 673.3 645.8 709.4M588.8 740.9Q588.6 674.4 641.2 715.0M591.4 740.6Q590.2 677.9 638.8 717.6M593.9 740.3Q589.1 676.0 635.5 720.8M596.5 739.9Q589.2 677.2 630.2 725.2" stroke="#66a61e" stroke-opacity="0.75" stroke-width="0.36" fill="none"/>
<path d="M513.0 697.6Q579.8 660.3 607.5 589.1M514.2 699.8Q580.2 660.4 617.8 593.3M515.4 701.9Q580.8 660.2 637.3 607.2M516.6 704.1Q581.7 661.3 641.3 611.3M518.0 706.2Q583.1 663.3 649.2 621.8M519.4 708.2Q583.2 663.4 650.3 623.7M520.9 710.2Q583.8 664.4 653.1 628.9M522.4 712.2Q585.0 666.6 655.8 635.0M524.0 714.1Q584.3 666.3 660.9 660.0M525.7 716.0Q584.3 667.2 660.6 671.3M527.4 717.8Q585.4 671.5 659.1 680.3M529.1 719.5Q584.2 667.8 657.2 687.2M531.0 721.2Q585.2 676.0 651.1 701.1M532.8 722.8Q583.4 674.2 637.7 718.7" stroke="#e7298a" stroke-opacity="0.75" stroke-width="0.36" fill="none"/>
<path d="M513.6 627.5Q575.6 650.1 587.6 585.2M512.4 629.9Q580.0 657.2 598.1 586.6M511.3 632.4Q575.0 646.5 603.4 587.8M510.2 635.0Q577.5 651.6 607.2 588.9M509.3 637.6Q575.9 647.5 612.1 590.7M508.4 640.2Q577.7 651.2 615.6 592.2M507.7 642.8Q579.8 655.5 621.7 595.4M507.0 645.5Q578.6 651.9 626.7 598.5M506.4 648.2Q579.0 652.7 629.4 600.4M506.0 650.9Q580.2 655.4 634.4 604.4M505.6 653.7Q582.0 659.7 642.3 612.4M505.3 656.4Q581.8 658.5 648.5 620.8M505.1 659.1Q582.3 659.9 651.7 626.1M505.0 661.9Q582.0 658.5 654.0 630.7M505.0 664.6Q582.2 659.0 655.8 635.0M505.1 667.4Q582.5 660.6 656.9 638.2M505.3 670.1Q582.9 662.3 659.9 650.3M505.6 672.9Q583.0 663.5 660.9 660.2M506.0 675.6Q583.1 664.8 661.0 664.8M506.5 678.3Q583.1 664.4 660.7 670.1M507.1 681.0Q583.1 666.4 659.9 675.9M507.8 683.7Q583.0 665.4 657.3 686.8M508.5 686.3Q582.4 668.7 650.6 702.0M509.4 688.9Q582.6 666.6 647.8 706.5M510.4 691.5Q581.6 672.4 644.4 711.3M511.4 694.1Q580.7 677.1 640.9 715.4" stroke="#7570b3" stroke-opacity="0.75" stroke-width="0.36" fill="none"/>
<path d="M542.7 596.3Q579.7 647.8 592.2 585.7M540.6 597.6Q580.3 649.7 596.8 586.3M538.6 599.0Q581.0 652.2 602.3 587.5M536.6 600.4Q581.5 648.2 616.2 592.5M534.6 601.9Q581.9 649.8 620.7 594.8M532.7 603.5Q582.7 656.6 627.3 598.9M530.9 605.1Q583.3 646.5 637.5 607.3M529.1 606.8Q583.9 655.1 647.6 619.3M527.3 608.5Q585.6 654.9 660.1 651.1M525.6 610.3Q584.2 659.9 660.9 659.6M524.0 612.1Q584.6 659.3 660.7 670.4M522.4 614.0Q585.7 657.3 659.7 677.3M520.9 615.9Q584.9 659.5 657.1 687.5M519.4 617.9Q584.3 660.7 655.1 692.9M518.0 619.9Q582.4 663.9 644.4 711.2M516.7 622.0Q581.8 664.6 635.4 720.9M515.5 624.1Q580.6 665.9 631.0 724.6" stroke="#d95f02" stroke-opacity="0.75" stroke-width="0.36" fill="none"/>
<path d="M581.5 585.1Q585.0 652.2 611.8 590.6M578.4 585.2Q586.4 650.4 625.8 597.9M575.3 585.5Q587.5 646.9 629.6 600.5M572.3 585.8Q589.9 646.2 644.7 615.4M569.3 586.3Q586.5 655.2 648.6 620.9M566.3 586.9Q588.2 654.1 657.5 640.0M563.3 587.6Q589.9 651.6 658.8 644.6M560.3 588.5Q591.6 651.2 661.0 661.3M557.4 589.4Q586.9 658.6 659.7 677.1M554.5 590.5Q587.1 658.7 657.3 686.8M551.7 591.7Q587.9 657.9 656.1 690.2M548.9 592.9Q587.8 658.9 648.3 705.7M546.2 594.3Q586.4 660.4 642.3 713.8" stroke="#1b9e77" stroke-opacity="0.75" stroke-width="0.36" fill="none"/>
<path d="M633.84 736.52A89.3 89.3 0 0 1 601.26 750.51L599.40 741.61A80.2 80.2 0 0 0 628.66 729.04Z" fill="#e6ab02"/>
<path d="M599.89 750.79A89.3 89.3 0 0 1 527.78 733.28L533.40 726.13A80.2 80.2 0 0 0 598.17 741.85Z" fill="#66a61e"/>
<path d="M526.68 732.40A89.3 89.3 0 0 1 502.27 701.26L510.49 697.37A80.2 80.2 0 0 0 532.42 725.34Z" fill="#e7298a"/>
<path d="M501.68 699.99A89.3 89.3 0 0 1 504.30 620.90L512.32 625.20A80.2 80.2 0 0 0 509.96 696.23Z" fill="#7570b3"/>
<path d="M504.97 619.67A89.3 89.3 0 0 1 538.08 585.92L542.66 593.79A80.2 80.2 0 0 0 512.92 624.10Z" fill="#d95f02"/>
<path d="M539.30 585.22A89.3 89.3 0 0 1 583.00 573.80L583.00 582.90A80.2 80.2 0 0 0 543.75 593.16Z" fill="#1b9e77"/>
<path d="M584.41 573.81A89.3 89.3 0 0 1 588.90 574.00L588.30 583.08A80.2 80.2 0 0 0 584.27 582.91Z" fill="#000"/>
<text x="586.7" y="572.5" font-size="3.5" fill="#1a1a1a" stroke="#1a1a1a" stroke-width="0.08" transform="rotate(-87.7 586.7 572.5)" dy="1.1">JUB</text>
<path d="M590.48 574.11A89.3 89.3 0 0 1 594.95 574.60L593.73 583.62A80.2 80.2 0 0 0 589.72 583.18Z" fill="#000"/>
<text x="592.9" y="572.9" font-size="3.5" fill="#1a1a1a" stroke="#1a1a1a" stroke-width="0.08" transform="rotate(-83.8 592.9 572.9)" dy="1.1">TIMP1</text>
<path d="M596.51 574.83A89.3 89.3 0 0 1 600.93 575.62L599.11 584.53A80.2 80.2 0 0 0 595.13 583.82Z" fill="#000"/>
<text x="599.0" y="573.8" font-size="3.5" fill="#1a1a1a" stroke="#1a1a1a" stroke-width="0.08" transform="rotate(-79.9 599.0 573.8)" dy="1.1">THY1</text>
<path d="M602.48 575.95A89.3 89.3 0 0 1 606.84 577.04L604.41 585.81A80.2 80.2 0 0 0 600.49 584.83Z" fill="#000"/>
<text x="605.0" y="575.1" font-size="3.5" fill="#1a1a1a" stroke="#1a1a1a" stroke-width="0.08" transform="rotate(-76.0 605.0 575.1)" dy="1.1">SULF2</text>
<path d="M608.36 577.48A89.3 89.3 0 0 1 612.63 578.86L609.61 587.44A80.2 80.2 0 0 0 605.77 586.20Z" fill="#000"/>
<text x="610.9" y="576.8" font-size="3.5" fill="#1a1a1a" stroke="#1a1a1a" stroke-width="0.08" transform="rotate(-72.1 610.9 576.8)" dy="1.1">SDC2</text>
<path d="M614.12 579.40A89.3 89.3 0 0 1 618.29 581.07L614.69 589.43A80.2 80.2 0 0 0 610.95 587.93Z" fill="#000"/>
<text x="616.7" y="578.9" font-size="3.5" fill="#1a1a1a" stroke="#1a1a1a" stroke-width="0.08" transform="rotate(-68.2 616.7 578.9)" dy="1.1">SDC4</text>
<path d="M619.73 581.71A89.3 89.3 0 0 1 623.78 583.66L619.63 591.75A80.2 80.2 0 0 0 615.99 590.00Z" fill="#000"/>
<text x="622.4" y="581.4" font-size="3.5" fill="#1a1a1a" stroke="#1a1a1a" stroke-width="0.08" transform="rotate(-64.3 622.4 581.4)" dy="1.1">ROBO2</text>
<path d="M625.18 584.39A89.3 89.3 0 0 1 629.09 586.61L624.39 594.41A80.2 80.2 0 0 0 620.88 592.41Z" fill="#000"/>
<text x="627.8" y="584.3" font-size="3.5" fill="#1a1a1a" stroke="#1a1a1a" stroke-width="0.08" transform="rotate(-60.4 627.8 584.3)" dy="1.1">ROBO1</text>
<path d="M630.43 587.44A89.3 89.3 0 0 1 634.18 589.92L628.97 597.38A80.2 80.2 0 0 0 625.60 595.15Z" fill="#000"/>
<text x="633.1" y="587.5" font-size="3.5" fill="#1a1a1a" stroke="#1a1a1a" stroke-width="0.08" transform="rotate(-56.5 633.1 587.5)" dy="1.1">PLXB1</text>
<path d="M635.47 590.84A89.3 89.3 0 0 1 639.04 593.57L633.33 600.66A80.2 80.2 0 0 0 630.12 598.20Z" fill="#000"/>
<text x="638.1" y="591.1" font-size="3.5" fill="#1a1a1a" stroke="#1a1a1a" stroke-width="0.08" transform="rotate(-52.6 638.1 591.1)" dy="1.1">PTPRF</text>
<path d="M640.26 594.57A89.3 89.3 0 0 1 643.63 597.54L637.45 604.22A80.2 80.2 0 0 0 634.42 601.56Z" fill="#000"/>
<text x="642.9" y="595.0" font-size="3.5" fill="#1a1a1a" stroke="#1a1a1a" stroke-width="0.08" transform="rotate(-48.7 642.9 595.0)" dy="1.1">PRCP</text>
<path d="M644.78 598.62A89.3 89.3 0 0 1 647.95 601.81L641.33 608.06A80.2 80.2 0 0 0 638.49 605.19Z" fill="#000"/>
<text x="647.4" y="599.2" font-size="3.5" fill="#1a1a1a" stroke="#1a1a1a" stroke-width="0.08" transform="rotate(-44.8 647.4 599.2)" dy="1.1">OPCML</text>
<path d="M649.02 602.97A89.3 89.3 0 0 1 651.96 606.37L644.94 612.15A80.2 80.2 0 0 0 642.29 609.10Z" fill="#000"/>
<text x="651.6" y="603.7" font-size="3.5" fill="#1a1a1a" stroke="#1a1a1a" stroke-width="0.08" transform="rotate(-40.9 651.6 603.7)" dy="1.1">OMG</text>
<path d="M652.96 607.60A89.3 89.3 0 0 1 655.66 611.19L648.26 616.48A80.2 80.2 0 0 0 645.83 613.25Z" fill="#000"/>
<text x="655.4" y="608.5" font-size="3.5" fill="#1a1a1a" stroke="#1a1a1a" stroke-width="0.08" transform="rotate(-37.0 655.4 608.5)" dy="1.1">NTRK3</text>
<path d="M656.57 612.48A89.3 89.3 0 0 1 659.02 616.25L651.27 621.02A80.2 80.2 0 0 0 649.07 617.64Z" fill="#000"/>
<text x="659.0" y="613.6" font-size="3.5" fill="#1a1a1a" stroke="#1a1a1a" stroke-width="0.08" transform="rotate(-33.1 659.0 613.6)" dy="1.1">NTRK2</text>
<path d="M659.84 617.60A89.3 89.3 0 0 1 662.03 621.52L653.98 625.76A80.2 80.2 0 0 0 652.01 622.23Z" fill="#000"/>
<text x="662.2" y="618.9" font-size="3.5" fill="#1a1a1a" stroke="#1a1a1a" stroke-width="0.08" transform="rotate(-29.2 662.2 618.9)" dy="1.1">NTNG1</text>
<path d="M662.75 622.92A89.3 89.3 0 0 1 664.67 626.99L656.35 630.67A80.2 80.2 0 0 0 654.63 627.02Z" fill="#000"/>
<text x="665.0" y="624.3" font-size="3.5" fill="#1a1a1a" stroke="#1a1a1a" stroke-width="0.08" transform="rotate(-25.3 665.0 624.3)" dy="1.1">NRXN3</text>
<path d="M665.30 628.44A89.3 89.3 0 0 1 666.94 632.62L658.38 635.73A80.2 80.2 0 0 0 656.91 631.97Z" fill="#000"/>
<text x="667.4" y="630.0" font-size="3.5" fill="#1a1a1a" stroke="#1a1a1a" stroke-width="0.08" transform="rotate(-21.4 667.4 630.0)" dy="1.1">NRXN1</text>
<path d="M667.46 634.11A89.3 89.3 0 0 1 668.82 638.40L660.07 640.92A80.2 80.2 0 0 0 658.86 637.07Z" fill="#000"/>
<text x="669.5" y="635.8" font-size="3.5" fill="#1a1a1a" stroke="#1a1a1a" stroke-width="0.08" transform="rotate(-17.5 669.5 635.8)" dy="1.1">NID2</text>
<path d="M669.24 639.92A89.3 89.3 0 0 1 670.30 644.29L661.40 646.21A80.2 80.2 0 0 0 660.45 642.28Z" fill="#000"/>
<text x="671.2" y="641.8" font-size="3.5" fill="#1a1a1a" stroke="#1a1a1a" stroke-width="0.08" transform="rotate(-13.6 671.2 641.8)" dy="1.1">MEGF10</text>
<path d="M670.62 645.84A89.3 89.3 0 0 1 671.37 650.27L662.37 651.57A80.2 80.2 0 0 0 661.69 647.59Z" fill="#000"/>
<text x="672.4" y="647.8" font-size="3.5" fill="#1a1a1a" stroke="#1a1a1a" stroke-width="0.08" transform="rotate(-9.7 672.4 647.8)" dy="1.1">LAMC1</text>
<path d="M671.59 651.83A89.3 89.3 0 0 1 672.04 656.30L662.97 656.99A80.2 80.2 0 0 0 662.56 652.98Z" fill="#000"/>
<text x="673.2" y="653.9" font-size="3.5" fill="#1a1a1a" stroke="#1a1a1a" stroke-width="0.08" transform="rotate(-5.8 673.2 653.9)" dy="1.1">LAMB1</text>
<path d="M672.15 657.88A89.3 89.3 0 0 1 672.30 662.37L663.20 662.44A80.2 80.2 0 0 0 663.06 658.41Z" fill="#000"/>
<text x="673.6" y="660.1" font-size="3.5" fill="#1a1a1a" stroke="#1a1a1a" stroke-width="0.08" transform="rotate(-1.9 673.6 660.1)" dy="1.1">IL6ST</text>
<path d="M672.30 663.95A89.3 89.3 0 0 1 672.14 668.44L663.06 667.90A80.2 80.2 0 0 0 663.20 663.86Z" fill="#000"/>
<text x="673.6" y="666.2" font-size="3.5" fill="#1a1a1a" stroke="#1a1a1a" stroke-width="0.08" transform="rotate(2.0 673.6 666.2)" dy="1.1">IGSF21</text>
<path d="M672.03 670.02A89.3 89.3 0 0 1 671.57 674.49L662.55 673.33A80.2 80.2 0 0 0 662.96 669.31Z" fill="#000"/>
<text x="673.2" y="672.4" font-size="3.5" fill="#1a1a1a" stroke="#1a1a1a" stroke-width="0.08" transform="rotate(5.9 673.2 672.4)" dy="1.1">HTRA1</text>
<path d="M671.36 676.05A89.3 89.3 0 0 1 670.59 680.48L661.67 678.71A80.2 80.2 0 0 0 662.35 674.73Z" fill="#000"/>
<text x="672.4" y="678.5" font-size="3.5" fill="#1a1a1a" stroke="#1a1a1a" stroke-width="0.08" transform="rotate(9.8 672.4 678.5)" dy="1.1">GLDN</text>
<path d="M670.27 682.03A89.3 89.3 0 0 1 669.21 686.39L660.42 684.02A80.2 80.2 0 0 0 661.38 680.10Z" fill="#000"/>
<text x="671.1" y="684.5" font-size="3.5" fill="#1a1a1a" stroke="#1a1a1a" stroke-width="0.08" transform="rotate(13.7 671.1 684.5)" dy="1.1">DNER</text>
<path d="M668.78 687.91A89.3 89.3 0 0 1 667.43 692.20L658.82 689.23A80.2 80.2 0 0 0 660.04 685.39Z" fill="#000"/>
<text x="669.5" y="690.5" font-size="3.5" fill="#1a1a1a" stroke="#1a1a1a" stroke-width="0.08" transform="rotate(17.6 669.5 690.5)" dy="1.1">DSP1</text>
<path d="M666.90 693.69A89.3 89.3 0 0 1 665.25 697.87L656.87 694.33A80.2 80.2 0 0 0 658.35 690.57Z" fill="#000"/>
<text x="667.4" y="696.3" font-size="3.5" fill="#1a1a1a" stroke="#1a1a1a" stroke-width="0.08" transform="rotate(21.5 667.4 696.3)" dy="1.1">CTSH</text>
<path d="M664.63 699.32A89.3 89.3 0 0 1 662.70 703.38L654.58 699.28A80.2 80.2 0 0 0 656.31 695.63Z" fill="#000"/>
<text x="665.0" y="702.0" font-size="3.5" fill="#1a1a1a" stroke="#1a1a1a" stroke-width="0.08" transform="rotate(25.4 665.0 702.0)" dy="1.1">COL8A1</text>
<path d="M661.97 704.78A89.3 89.3 0 0 1 659.78 708.70L651.95 704.06A80.2 80.2 0 0 0 653.93 700.54Z" fill="#000"/>
<text x="662.1" y="707.4" font-size="3.5" fill="#1a1a1a" stroke="#1a1a1a" stroke-width="0.08" transform="rotate(29.3 662.1 707.4)" dy="1.1">CNTN2</text>
<path d="M658.96 710.05A89.3 89.3 0 0 1 656.50 713.82L649.01 708.65A80.2 80.2 0 0 0 651.22 705.27Z" fill="#000"/>
<text x="658.9" y="712.7" font-size="3.5" fill="#1a1a1a" stroke="#1a1a1a" stroke-width="0.08" transform="rotate(33.2 658.9 712.7)" dy="1.1">CLEC3B</text>
<path d="M655.59 715.11A89.3 89.3 0 0 1 652.88 718.70L645.76 713.03A80.2 80.2 0 0 0 648.19 709.81Z" fill="#000"/>
<text x="655.4" y="717.8" font-size="3.5" fill="#1a1a1a" stroke="#1a1a1a" stroke-width="0.08" transform="rotate(37.1 655.4 717.8)" dy="1.1">CHGA</text>
<path d="M651.89 719.92A89.3 89.3 0 0 1 648.94 723.32L642.22 717.18A80.2 80.2 0 0 0 644.87 714.13Z" fill="#000"/>
<text x="651.5" y="722.6" font-size="3.5" fill="#1a1a1a" stroke="#1a1a1a" stroke-width="0.08" transform="rotate(41.0 651.5 722.6)" dy="1.1">CD44</text>
<path d="M647.87 724.47A89.3 89.3 0 0 1 644.70 727.66L638.41 721.08A80.2 80.2 0 0 0 641.26 718.22Z" fill="#000"/>
<text x="647.3" y="727.1" font-size="3.5" fill="#1a1a1a" stroke="#1a1a1a" stroke-width="0.08" transform="rotate(44.9 647.3 727.1)" dy="1.1">BST1</text>
<path d="M643.55 728.74A89.3 89.3 0 0 1 640.17 731.70L634.34 724.71A80.2 80.2 0 0 0 637.38 722.05Z" fill="#000"/>
<text x="642.8" y="731.3" font-size="3.5" fill="#1a1a1a" stroke="#1a1a1a" stroke-width="0.08" transform="rotate(48.8 642.8 731.3)" dy="1.1">BMP1</text>
<path d="M638.94 732.70A89.3 89.3 0 0 1 635.37 735.43L630.03 728.06A80.2 80.2 0 0 0 633.24 725.61Z" fill="#000"/>
<text x="638.0" y="735.2" font-size="3.5" fill="#1a1a1a" stroke="#1a1a1a" stroke-width="0.08" transform="rotate(52.7 638.0 735.2)" dy="1.1">ISM</text>
<rect x="493.8" y="776.5" width="1.8" height="1.8" rx="0.5" fill="#1b9e77"/>
<text x="497.1" y="779.0" font-size="4.5" fill="#333">Extracellular Matrix Organization</text>
<rect x="493.8" y="781.4" width="1.8" height="1.8" rx="0.5" fill="#d95f02"/>
<text x="497.1" y="783.9" font-size="4.5" fill="#333">Neuron projection</text>
<rect x="493.8" y="786.3" width="1.8" height="1.8" rx="0.5" fill="#7570b3"/>
<text x="497.1" y="788.8" font-size="4.5" fill="#333">Cell migration</text>
<rect x="493.8" y="791.3" width="1.8" height="1.8" rx="0.5" fill="#e7298a"/>
<text x="497.1" y="793.8" font-size="4.5" fill="#333">Cellular response to growth factor stimulus</text>
<rect x="493.8" y="796.2" width="1.8" height="1.8" rx="0.5" fill="#66a61e"/>
<text x="497.1" y="798.7" font-size="4.5" fill="#333">Generation of neurons</text>
<rect x="493.8" y="801.1" width="1.8" height="1.8" rx="0.5" fill="#e6ab02"/>
<text x="497.1" y="803.6" font-size="4.5" fill="#333">Synapse organization</text>
<text x="-0.3" y="9.2" font-size="12.6" fill="#000" font-weight="bold" stroke="#000" stroke-width="0.35">a</text>
<text x="227.6" y="9.3" font-size="12.6" fill="#000" font-weight="bold" stroke="#000" stroke-width="0.35">b</text>
<text x="454.6" y="9.3" font-size="12.6" fill="#000" font-weight="bold" stroke="#000" stroke-width="0.35">c</text>
<text x="-0.3" y="285.5" font-size="12.6" fill="#000" font-weight="bold" stroke="#000" stroke-width="0.35">d</text>
<text x="369.3" y="285.5" font-size="12.6" fill="#000" font-weight="bold" stroke="#000" stroke-width="0.35">e</text>
<text x="-0.3" y="551.8" font-size="12.6" fill="#000" font-weight="bold" stroke="#000" stroke-width="0.35">f</text>
<text x="145.7" y="551.8" font-size="12.6" fill="#000" font-weight="bold" stroke="#000" stroke-width="0.35">g</text>
<text x="287.4" y="551.8" font-size="12.6" fill="#000" font-weight="bold" stroke="#000" stroke-width="0.35">h</text>
<text x="493.4" y="551.8" font-size="12.6" fill="#000" font-weight="bold" stroke="#000" stroke-width="0.35">i</text>
</svg></body></html>
